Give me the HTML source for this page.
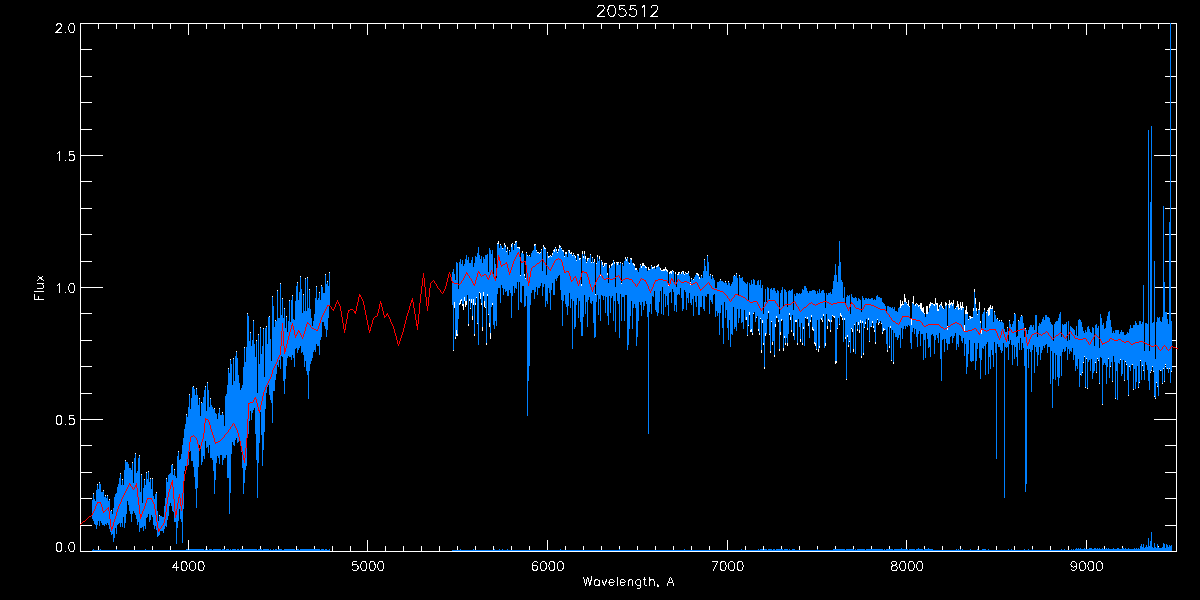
<!DOCTYPE html>
<html><head><meta charset="utf-8"><title>205512</title>
<style>html,body{margin:0;padding:0;background:#000;overflow:hidden}body{width:1200px;height:600px;font-family:"Liberation Sans",sans-serif}svg{display:block}</style>
</head><body>
<svg width="1200" height="600" viewBox="0 0 1200 600" shape-rendering="crispEdges">
<rect width="1200" height="600" fill="#000"/>
<path d="M80 23.5H1177 M80 551.5H1177 M80.5 23V552 M1176.5 23V552 M98.5 23V29 M98.5 546V552 M116.5 23V29 M116.5 546V552 M134.5 23V29 M134.5 546V552 M152.5 23V29 M152.5 546V552 M170.5 23V29 M170.5 546V552 M188.5 23V35 M188.5 540V552 M206.5 23V29 M206.5 546V552 M224.5 23V29 M224.5 546V552 M242.5 23V29 M242.5 546V552 M260.5 23V29 M260.5 546V552 M278.5 23V29 M278.5 546V552 M296.5 23V29 M296.5 546V552 M314.5 23V29 M314.5 546V552 M332.5 23V29 M332.5 546V552 M350.5 23V29 M350.5 546V552 M367.5 23V35 M367.5 540V552 M385.5 23V29 M385.5 546V552 M403.5 23V29 M403.5 546V552 M421.5 23V29 M421.5 546V552 M439.5 23V29 M439.5 546V552 M457.5 23V29 M457.5 546V552 M475.5 23V29 M475.5 546V552 M493.5 23V29 M493.5 546V552 M511.5 23V29 M511.5 546V552 M529.5 23V29 M529.5 546V552 M547.5 23V35 M547.5 540V552 M565.5 23V29 M565.5 546V552 M583.5 23V29 M583.5 546V552 M601.5 23V29 M601.5 546V552 M619.5 23V29 M619.5 546V552 M637.5 23V29 M637.5 546V552 M655.5 23V29 M655.5 546V552 M673.5 23V29 M673.5 546V552 M691.5 23V29 M691.5 546V552 M709.5 23V29 M709.5 546V552 M727.5 23V35 M727.5 540V552 M745.5 23V29 M745.5 546V552 M763.5 23V29 M763.5 546V552 M781.5 23V29 M781.5 546V552 M799.5 23V29 M799.5 546V552 M817.5 23V29 M817.5 546V552 M835.5 23V29 M835.5 546V552 M853.5 23V29 M853.5 546V552 M871.5 23V29 M871.5 546V552 M889.5 23V29 M889.5 546V552 M906.5 23V35 M906.5 540V552 M924.5 23V29 M924.5 546V552 M942.5 23V29 M942.5 546V552 M960.5 23V29 M960.5 546V552 M978.5 23V29 M978.5 546V552 M996.5 23V29 M996.5 546V552 M1014.5 23V29 M1014.5 546V552 M1032.5 23V29 M1032.5 546V552 M1050.5 23V29 M1050.5 546V552 M1068.5 23V29 M1068.5 546V552 M1086.5 23V35 M1086.5 540V552 M1104.5 23V29 M1104.5 546V552 M1122.5 23V29 M1122.5 546V552 M1140.5 23V29 M1140.5 546V552 M1158.5 23V29 M1158.5 546V552 M80 551.5H103 M1154 551.5H1177 M80 525.5H92 M1165 525.5H1177 M80 498.5H92 M1165 498.5H1177 M80 472.5H92 M1165 472.5H1177 M80 445.5H92 M1165 445.5H1177 M80 419.5H103 M1154 419.5H1177 M80 393.5H92 M1165 393.5H1177 M80 366.5H92 M1165 366.5H1177 M80 340.5H92 M1165 340.5H1177 M80 313.5H92 M1165 313.5H1177 M80 287.5H103 M1154 287.5H1177 M80 261.5H92 M1165 261.5H1177 M80 234.5H92 M1165 234.5H1177 M80 208.5H92 M1165 208.5H1177 M80 181.5H92 M1165 181.5H1177 M80 155.5H103 M1154 155.5H1177 M80 129.5H92 M1165 129.5H1177 M80 102.5H92 M1165 102.5H1177 M80 76.5H92 M1165 76.5H1177 M80 49.5H92 M1165 49.5H1177 M80 23.5H103 M1154 23.5H1177" stroke="#fff" stroke-width="1" fill="none"/>
<path d="M92.5 500V519M93.5 493V521M94.5 499V524M95.5 501V525M96.5 490V529M97.5 484V525M98.5 489V521M99.5 482V526M100.5 484V521M101.5 492V523M102.5 492V525M103.5 490V525M104.5 497V526M105.5 495V524M106.5 498V525M107.5 495V523M108.5 501V525M109.5 499V529M110.5 511V532M111.5 510V535M112.5 514V534M113.5 508V542M114.5 497V538M115.5 494V528M116.5 493V534M117.5 487V525M118.5 484V524M119.5 478V523M120.5 473V527M121.5 485V523M122.5 479V527M123.5 485V517M124.5 470V528M125.5 460V523M126.5 462V514M127.5 462V501M128.5 464V505M129.5 468V511M130.5 468V514M131.5 470V522M132.5 462V514M133.5 483V511M134.5 458V513M135.5 453V515M136.5 473V519M137.5 471V525M138.5 458V522M139.5 455V532M140.5 492V528M141.5 474V528M142.5 503V527M143.5 488V531M144.5 479V526M145.5 485V529M146.5 472V518M147.5 479V517M148.5 471V514M149.5 482V522M150.5 478V520M151.5 489V515M152.5 478V517M153.5 496V525M154.5 499V529M155.5 494V526M156.5 492V530M157.5 511V537M158.5 521V536M159.5 515V535M160.5 516V531M161.5 516V531M162.5 517V531M163.5 517V533M164.5 506V529M165.5 498V526M166.5 478V527M167.5 482V520M168.5 475V516M169.5 474V506M170.5 473V503M171.5 465V506M172.5 464V511M173.5 475V512M174.5 469V522M175.5 476V522M176.5 478V544M177.5 456V528M178.5 451V521M179.5 460V509M180.5 459V519M181.5 454V522M182.5 445V543M183.5 438V509M184.5 429V471M185.5 424V466M186.5 414V469M187.5 417V466M188.5 407V465M189.5 394V452M190.5 409V451M191.5 398V461M192.5 387V461M193.5 386V467M194.5 389V477M195.5 395V489M196.5 388V508M197.5 395V488M198.5 405V467M199.5 398V445M200.5 416V449M201.5 402V465M202.5 403V462M203.5 397V456M204.5 390V459M205.5 386V441M206.5 411V448M207.5 382V447M208.5 390V453M209.5 407V445M210.5 398V458M211.5 405V458M212.5 407V460M213.5 409V471M214.5 408V494M215.5 413V480M216.5 414V463M217.5 419V456M218.5 413V458M219.5 408V464M220.5 415V455M221.5 415V455M222.5 412V465M223.5 415V460M224.5 426V458M225.5 396V458M226.5 394V455M227.5 385V478M228.5 368V478M229.5 373V514M230.5 359V493M231.5 364V454M232.5 385V442M233.5 358V445M234.5 381V446M235.5 356V440M236.5 351V438M237.5 358V443M238.5 375V442M239.5 383V441M240.5 390V445M241.5 388V452M242.5 385V468M243.5 367V494M244.5 347V483M245.5 362V470M246.5 347V466M247.5 313V436M248.5 316V434M249.5 341V421M250.5 332V411M251.5 346V420M252.5 340V413M253.5 320V410M254.5 344V408M255.5 357V434M256.5 340V460M257.5 393V498M258.5 334V463M259.5 364V443M260.5 327V412M261.5 354V435M262.5 346V466M263.5 328V450M264.5 377V432M265.5 328V409M266.5 326V393M267.5 344V387M268.5 317V385M269.5 316V395M270.5 339V400M271.5 361V403M272.5 296V423M273.5 306V391M274.5 327V391M275.5 320V380M276.5 321V374M277.5 290V365M278.5 318V367M279.5 318V360M280.5 283V369M281.5 315V356M282.5 298V357M283.5 318V381M284.5 308V394M285.5 328V379M286.5 316V366M287.5 332V358M288.5 321V356M289.5 300V357M290.5 322V357M291.5 300V360M292.5 295V355M293.5 319V358M294.5 320V367M295.5 301V349M296.5 286V348M297.5 282V353M298.5 300V350M299.5 292V348M300.5 276V346M301.5 289V353M302.5 313V352M303.5 294V355M304.5 311V367M305.5 278V361M306.5 311V371M307.5 277V375M308.5 308V399M309.5 289V371M310.5 309V364M311.5 318V361M312.5 326V358M313.5 321V352M314.5 314V350M315.5 298V352M316.5 286V344M317.5 300V346M318.5 298V346M319.5 292V355M320.5 300V340M321.5 285V337M322.5 287V322M323.5 293V322M324.5 293V326M325.5 274V329M326.5 284V337M327.5 281V330M328.5 286V318M329.5 272V306M452.5 272V305M453.5 269V351M454.5 274V308M455.5 280V339M456.5 262V336M457.5 263V336M458.5 289V319M459.5 262V305M460.5 259V304M461.5 264V301M462.5 260V306M463.5 266V310M464.5 264V301M465.5 259V307M466.5 255V305M467.5 260V295M468.5 257V326M469.5 263V301M470.5 263V309M471.5 260V303M472.5 257V320M473.5 267V305M474.5 263V336M475.5 256V305M476.5 257V298M477.5 253V324M478.5 247V345M479.5 255V293M480.5 259V299M481.5 256V305M482.5 263V331M483.5 257V296M484.5 259V307M485.5 255V308M486.5 255V345M487.5 254V296M488.5 272V315M489.5 248V327M490.5 250V339M491.5 254V307M492.5 250V305M493.5 277V325M494.5 258V329M495.5 264V321M496.5 278V326M497.5 243V294M498.5 241V288M499.5 248V288M500.5 244V303M501.5 246V285M502.5 248V288M503.5 248V295M504.5 243V289M505.5 245V292M506.5 251V291M507.5 247V296M508.5 255V296M509.5 250V290M510.5 252V293M511.5 244V318M512.5 243V296M513.5 250V286M514.5 244V293M515.5 241V288M516.5 241V289M517.5 247V282M518.5 247V310M519.5 247V282M520.5 275V302M521.5 253V303M522.5 251V286M523.5 254V286M524.5 274V307M525.5 278V306M526.5 252V296M527.5 255V416M528.5 256V381M529.5 255V366M530.5 257V305M531.5 253V293M532.5 251V290M533.5 250V290M534.5 244V299M535.5 244V292M536.5 250V287M537.5 252V295M538.5 252V288M539.5 253V288M540.5 252V286M541.5 249V283M542.5 271V296M543.5 245V287M544.5 247V284M545.5 248V307M546.5 275V301M547.5 252V304M548.5 256V288M549.5 256V293M550.5 255V310M551.5 256V290M552.5 253V283M553.5 250V295M554.5 249V295M555.5 247V279M556.5 249V281M557.5 252V278M558.5 249V276M559.5 245V275M560.5 246V290M561.5 248V300M562.5 250V326M563.5 250V301M564.5 256V295M565.5 252V304M566.5 252V307M567.5 257V315M568.5 250V306M569.5 250V293M570.5 253V308M571.5 252V299M572.5 255V349M573.5 253V301M574.5 255V329M575.5 256V327M576.5 260V305M577.5 254V298M578.5 254V318M579.5 258V301M580.5 258V322M581.5 284V336M582.5 251V336M583.5 256V317M584.5 251V295M585.5 256V314M586.5 262V302M587.5 258V327M588.5 258V300M589.5 258V297M590.5 254V303M591.5 262V304M592.5 257V301M593.5 262V323M594.5 259V338M595.5 294V337M596.5 263V302M597.5 255V295M598.5 261V315M599.5 256V299M600.5 274V321M601.5 260V295M602.5 262V296M603.5 266V300M604.5 263V296M605.5 263V313M606.5 263V297M607.5 273V316M608.5 283V325M609.5 265V296M610.5 268V313M611.5 264V298M612.5 263V296M613.5 260V321M614.5 262V301M615.5 287V332M616.5 262V293M617.5 262V301M618.5 262V304M619.5 265V338M620.5 262V294M621.5 283V321M622.5 263V297M623.5 266V297M624.5 261V321M625.5 257V295M626.5 259V295M627.5 257V350M628.5 262V345M629.5 263V329M630.5 258V316M631.5 258V301M632.5 263V329M633.5 263V308M634.5 264V304M635.5 268V308M636.5 268V346M637.5 270V337M638.5 272V321M639.5 268V302M640.5 264V305M641.5 266V316M642.5 263V302M643.5 263V310M644.5 265V306M645.5 266V301M646.5 267V304M647.5 271V317M648.5 267V434M649.5 269V312M650.5 269V304M651.5 265V314M652.5 267V296M653.5 267V297M654.5 266V291M655.5 269V310M656.5 266V312M657.5 265V316M658.5 264V313M659.5 267V302M660.5 268V291M661.5 270V314M662.5 270V287M663.5 269V315M664.5 269V294M665.5 267V307M666.5 269V296M667.5 270V305M668.5 284V316M669.5 272V293M670.5 271V292M671.5 271V303M672.5 270V289M673.5 271V292M674.5 283V311M675.5 272V305M676.5 287V312M677.5 274V295M678.5 272V294M679.5 272V295M680.5 274V288M681.5 272V298M682.5 271V311M683.5 271V309M684.5 274V290M685.5 272V292M686.5 273V310M687.5 273V298M688.5 271V303M689.5 276V293M690.5 282V303M691.5 278V305M692.5 280V299M693.5 279V316M694.5 277V296M695.5 275V302M696.5 273V307M697.5 273V296M698.5 274V315M699.5 277V315M700.5 278V307M701.5 275V307M702.5 278V296M703.5 271V309M704.5 259V311M705.5 266V296M706.5 271V297M707.5 255V294M708.5 262V294M709.5 276V314M710.5 274V300M711.5 279V302M712.5 275V304M713.5 278V295M714.5 280V294M715.5 288V317M716.5 288V311M717.5 282V316M718.5 282V313M719.5 281V335M720.5 279V313M721.5 281V305M722.5 281V328M723.5 282V344M724.5 283V302M725.5 281V318M726.5 283V310M727.5 285V328M728.5 281V340M729.5 283V320M730.5 286V347M731.5 284V334M732.5 282V335M733.5 276V307M734.5 275V329M735.5 276V327M736.5 273V331M737.5 278V309M738.5 296V323M739.5 275V318M740.5 278V309M741.5 278V323M742.5 277V322M743.5 281V329M744.5 282V310M745.5 283V320M746.5 284V320M747.5 282V336M748.5 301V326M749.5 283V315M750.5 285V332M751.5 280V332M752.5 284V335M753.5 279V314M754.5 280V312M755.5 285V322M756.5 285V318M757.5 281V316M758.5 280V331M759.5 285V335M760.5 280V319M761.5 288V353M762.5 285V323M763.5 314V345M764.5 302V369M765.5 289V336M766.5 302V334M767.5 287V319M768.5 288V313M769.5 299V335M770.5 289V353M771.5 288V322M772.5 290V345M773.5 288V341M774.5 288V357M775.5 291V327M776.5 293V318M777.5 290V318M778.5 291V322M779.5 314V351M780.5 293V335M781.5 290V321M782.5 287V320M783.5 307V351M784.5 289V338M785.5 290V345M786.5 292V338M787.5 307V346M788.5 291V334M789.5 290V315M790.5 291V320M791.5 290V332M792.5 289V315M793.5 310V336M794.5 294V340M795.5 296V322M796.5 293V322M797.5 293V345M798.5 294V319M799.5 293V327M800.5 294V342M801.5 293V323M802.5 289V345M803.5 290V329M804.5 286V346M805.5 286V318M806.5 288V319M807.5 291V319M808.5 293V326M809.5 291V338M810.5 291V322M811.5 291V317M812.5 290V330M813.5 290V331M814.5 290V344M815.5 291V346M816.5 294V350M817.5 291V320M818.5 293V352M819.5 289V348M820.5 293V319M821.5 291V320M822.5 290V322M823.5 290V316M824.5 293V348M825.5 308V346M826.5 293V314M827.5 295V329M828.5 293V321M829.5 293V322M830.5 292V332M831.5 294V322M832.5 289V316M833.5 281V317M834.5 275V318M835.5 264V364M836.5 275V363M837.5 282V329M838.5 266V318M839.5 241V325M840.5 262V316M841.5 280V317M842.5 282V320M843.5 298V342M844.5 287V320M845.5 303V339M846.5 297V380M847.5 295V337M848.5 296V347M849.5 295V342M850.5 314V353M851.5 294V329M852.5 297V332M853.5 298V352M854.5 298V325M855.5 297V354M856.5 298V322M857.5 301V331M858.5 298V325M859.5 299V333M860.5 300V323M861.5 312V358M862.5 296V323M863.5 298V355M864.5 300V328M865.5 298V324M866.5 298V319M867.5 299V330M868.5 298V320M869.5 299V342M870.5 299V327M871.5 298V327M872.5 298V323M873.5 300V328M874.5 299V332M875.5 300V344M876.5 296V323M877.5 295V320M878.5 297V325M879.5 297V323M880.5 298V321M881.5 298V324M882.5 302V334M883.5 303V331M884.5 304V330M885.5 306V330M886.5 312V344M887.5 306V352M888.5 306V327M889.5 307V348M890.5 307V328M891.5 308V361M892.5 307V330M893.5 309V364M894.5 307V333M895.5 311V337M896.5 311V337M897.5 312V340M898.5 308V338M899.5 307V335M900.5 300V348M901.5 304V328M902.5 301V339M903.5 304V329M904.5 294V326M905.5 298V329M906.5 302V326M907.5 304V327M908.5 300V325M909.5 306V326M910.5 318V343M911.5 319V349M912.5 302V332M913.5 296V328M914.5 305V334M915.5 304V329M916.5 303V337M917.5 304V347M918.5 305V334M919.5 305V331M920.5 303V346M921.5 303V334M922.5 308V334M923.5 307V360M924.5 313V340M925.5 317V358M926.5 306V333M927.5 306V339M928.5 312V348M929.5 304V347M930.5 302V357M931.5 303V335M932.5 303V334M933.5 304V336M934.5 304V354M935.5 298V340M936.5 303V335M937.5 303V338M938.5 309V343M939.5 305V333M940.5 304V359M941.5 302V381M942.5 306V340M943.5 308V339M944.5 309V352M945.5 302V339M946.5 303V343M947.5 326V350M948.5 304V344M949.5 300V344M950.5 303V337M951.5 302V336M952.5 303V343M953.5 300V338M954.5 309V336M955.5 308V333M956.5 306V350M957.5 301V344M958.5 304V347M959.5 308V335M960.5 302V336M961.5 306V341M962.5 302V343M963.5 307V338M964.5 325V356M965.5 310V344M966.5 306V374M967.5 312V367M968.5 319V354M969.5 316V340M970.5 316V361M971.5 317V362M972.5 317V361M973.5 308V361M974.5 289V343M975.5 298V370M976.5 308V361M977.5 314V349M978.5 309V343M979.5 302V358M980.5 321V379M981.5 330V360M982.5 314V348M983.5 312V349M984.5 308V346M985.5 328V375M986.5 312V344M987.5 310V342M988.5 308V374M989.5 307V357M990.5 305V369M991.5 308V350M992.5 306V355M993.5 322V367M994.5 311V342M995.5 315V353M996.5 319V459M997.5 318V344M998.5 321V347M999.5 320V347M1000.5 322V350M1001.5 320V353M1002.5 322V351M1003.5 323V343M1004.5 329V498M1005.5 332V347M1006.5 332V348M1007.5 327V347M1008.5 341V360M1009.5 320V344M1010.5 324V340M1011.5 327V345M1012.5 324V365M1013.5 321V345M1014.5 313V359M1015.5 314V347M1016.5 337V357M1017.5 336V366M1018.5 320V343M1019.5 321V350M1020.5 317V338M1021.5 315V350M1022.5 316V343M1023.5 323V348M1024.5 337V366M1025.5 328V492M1026.5 330V484M1027.5 334V349M1028.5 330V368M1029.5 327V349M1030.5 325V352M1031.5 325V392M1032.5 327V350M1033.5 325V345M1034.5 330V373M1035.5 315V347M1036.5 315V352M1037.5 337V366M1038.5 326V355M1039.5 323V347M1040.5 324V360M1041.5 322V353M1042.5 319V350M1043.5 317V346M1044.5 320V348M1045.5 315V345M1046.5 315V344M1047.5 317V353M1048.5 317V347M1049.5 318V347M1050.5 322V384M1051.5 324V351M1052.5 325V408M1053.5 341V379M1054.5 324V353M1055.5 322V380M1056.5 321V355M1057.5 321V377M1058.5 318V386M1059.5 314V378M1060.5 312V356M1061.5 337V376M1062.5 324V352M1063.5 325V349M1064.5 324V352M1065.5 324V351M1066.5 322V347M1067.5 341V360M1068.5 321V349M1069.5 340V354M1070.5 326V351M1071.5 327V352M1072.5 328V348M1073.5 329V360M1074.5 330V355M1075.5 335V371M1076.5 326V366M1077.5 336V369M1078.5 320V359M1079.5 319V387M1080.5 320V375M1081.5 322V376M1082.5 327V373M1083.5 331V363M1084.5 333V357M1085.5 330V388M1086.5 332V359M1087.5 327V389M1088.5 326V362M1089.5 329V360M1090.5 332V371M1091.5 333V359M1092.5 327V379M1093.5 328V373M1094.5 346V371M1095.5 325V363M1096.5 324V373M1097.5 328V359M1098.5 326V361M1099.5 348V384M1100.5 314V357M1101.5 318V358M1102.5 325V405M1103.5 323V365M1104.5 329V363M1105.5 328V365M1106.5 321V384M1107.5 316V367M1108.5 312V359M1109.5 311V378M1110.5 320V367M1111.5 327V362M1112.5 333V382M1113.5 331V356M1114.5 333V362M1115.5 330V399M1116.5 330V371M1117.5 330V400M1118.5 330V363M1119.5 334V364M1120.5 332V360M1121.5 330V376M1122.5 332V374M1123.5 332V360M1124.5 335V381M1125.5 335V362M1126.5 334V365M1127.5 332V380M1128.5 333V396M1129.5 329V367M1130.5 325V371M1131.5 328V365M1132.5 328V365M1133.5 325V390M1134.5 325V369M1135.5 321V389M1136.5 323V382M1137.5 325V366M1138.5 325V388M1139.5 321V383M1140.5 321V361M1141.5 324V380M1142.5 322V366M1143.5 285V371M1144.5 351V380M1145.5 323V362M1146.5 323V365M1147.5 324V370M1148.5 130V381M1149.5 351V390M1150.5 202V373M1151.5 126V371M1152.5 323V367M1153.5 322V372M1154.5 261V397M1155.5 359V399M1156.5 322V383M1157.5 317V387M1158.5 318V396M1159.5 317V370M1160.5 321V371M1161.5 322V371M1162.5 317V384M1163.5 206V369M1164.5 282V382M1165.5 312V365M1166.5 312V369M1167.5 319V369M1168.5 324V373M1169.5 222V369M1170.5 23V383M1171.5 321V372" stroke="#fff" stroke-width="1" fill="none"/>
<path d="M92.5 500V519M93.5 494V521M94.5 499V524M95.5 501V525M96.5 490V529M97.5 485V525M98.5 489V521M99.5 483V526M100.5 484V521M101.5 492V523M102.5 492V525M103.5 491V525M104.5 497V526M105.5 496V524M106.5 498V525M107.5 496V523M108.5 501V525M109.5 500V529M110.5 511V532M111.5 511V535M112.5 514V534M113.5 508V542M114.5 497V538M115.5 494V528M116.5 493V534M117.5 487V525M118.5 484V524M119.5 478V523M120.5 474V527M121.5 485V523M122.5 480V527M123.5 485V517M124.5 470V528M125.5 461V523M126.5 462V514M127.5 462V501M128.5 464V505M129.5 468V511M130.5 468V514M131.5 470V522M132.5 463V514M133.5 483V511M134.5 458V513M135.5 454V515M136.5 473V519M137.5 471V525M138.5 458V522M139.5 456V532M140.5 492V528M141.5 475V528M142.5 503V527M143.5 488V531M144.5 480V526M145.5 485V529M146.5 473V518M147.5 479V517M148.5 472V514M149.5 482V522M150.5 479V520M151.5 489V515M152.5 479V517M153.5 496V525M154.5 499V529M155.5 494V526M156.5 493V530M157.5 511V537M158.5 521V536M159.5 516V535M160.5 516V531M161.5 516V531M162.5 517V531M163.5 517V533M164.5 506V529M165.5 498V526M166.5 479V527M167.5 482V520M168.5 475V516M169.5 474V506M170.5 473V503M171.5 465V506M172.5 465V511M173.5 475V512M174.5 470V522M175.5 476V522M176.5 478V544M177.5 456V528M178.5 452V521M179.5 460V509M180.5 459V519M181.5 454V522M182.5 445V543M183.5 438V509M184.5 429V471M185.5 424V466M186.5 415V469M187.5 417V466M188.5 407V465M189.5 395V452M190.5 409V451M191.5 398V461M192.5 387V461M193.5 387V467M194.5 389V477M195.5 395V489M196.5 389V508M197.5 395V488M198.5 405V467M199.5 399V445M200.5 416V449M201.5 403V465M202.5 403V462M203.5 397V456M204.5 390V459M205.5 387V441M206.5 411V448M207.5 383V447M208.5 390V453M209.5 407V445M210.5 399V458M211.5 405V458M212.5 407V460M213.5 409V471M214.5 409V494M215.5 413V480M216.5 414V463M217.5 419V456M218.5 413V458M219.5 409V464M220.5 415V455M221.5 415V455M222.5 413V465M223.5 415V460M224.5 426V458M225.5 396V458M226.5 394V455M227.5 385V478M228.5 369V478M229.5 373V514M230.5 360V493M231.5 364V454M232.5 385V442M233.5 359V445M234.5 381V446M235.5 356V440M236.5 352V438M237.5 358V443M238.5 375V442M239.5 383V441M240.5 390V445M241.5 388V452M242.5 385V468M243.5 367V494M244.5 348V483M245.5 362V470M246.5 347V466M247.5 314V436M248.5 316V434M249.5 341V421M250.5 333V411M251.5 346V420M252.5 340V413M253.5 321V410M254.5 344V408M255.5 357V434M256.5 341V460M257.5 393V498M258.5 335V463M259.5 364V443M260.5 328V412M261.5 354V435M262.5 346V466M263.5 329V450M264.5 377V432M265.5 328V409M266.5 327V393M267.5 344V387M268.5 317V385M269.5 317V395M270.5 339V400M271.5 361V403M272.5 297V423M273.5 306V391M274.5 327V391M275.5 321V380M276.5 321V374M277.5 291V365M278.5 318V367M279.5 318V360M280.5 284V369M281.5 315V356M282.5 299V357M283.5 318V381M284.5 309V394M285.5 328V379M286.5 317V366M287.5 332V358M288.5 321V356M289.5 301V357M290.5 322V357M291.5 300V360M292.5 296V355M293.5 319V358M294.5 320V367M295.5 301V349M296.5 286V348M297.5 283V353M298.5 300V350M299.5 292V348M300.5 277V346M301.5 289V353M302.5 313V352M303.5 295V355M304.5 311V367M305.5 279V361M306.5 311V371M307.5 278V375M308.5 308V399M309.5 290V371M310.5 309V364M311.5 318V361M312.5 326V358M313.5 321V352M314.5 314V350M315.5 298V352M316.5 287V344M317.5 300V346M318.5 298V346M319.5 293V355M320.5 300V340M321.5 286V337M322.5 287V322M323.5 293V322M324.5 293V326M325.5 275V329M326.5 284V337M327.5 282V330M328.5 286V318M329.5 273V306M452.5 272V305M453.5 269V350M454.5 274V302M455.5 280V337M456.5 262V330M457.5 263V334M458.5 289V319M459.5 262V303M460.5 259V300M461.5 264V299M462.5 260V304M463.5 266V304M464.5 264V297M465.5 259V301M466.5 255V301M467.5 260V295M468.5 257V324M469.5 263V299M470.5 263V308M471.5 260V299M472.5 257V316M473.5 267V299M474.5 263V334M475.5 256V303M476.5 257V297M477.5 253V323M478.5 247V345M479.5 255V292M480.5 259V293M481.5 256V303M482.5 263V327M483.5 257V292M484.5 259V301M485.5 255V307M486.5 255V343M487.5 254V294M488.5 272V314M489.5 248V323M490.5 250V333M491.5 254V307M492.5 250V303M493.5 277V325M494.5 258V329M495.5 264V321M496.5 278V326M497.5 244V294M498.5 244V288M499.5 248V288M500.5 245V303M501.5 246V285M502.5 249V288M503.5 248V295M504.5 245V289M505.5 247V292M506.5 252V291M507.5 249V296M508.5 255V296M509.5 251V290M510.5 252V293M511.5 247V318M512.5 244V296M513.5 250V286M514.5 245V293M515.5 243V288M516.5 242V289M517.5 248V282M518.5 248V310M519.5 249V282M520.5 276V302M521.5 253V303M522.5 253V286M523.5 254V286M524.5 276V307M525.5 279V306M526.5 253V296M527.5 256V416M528.5 256V381M529.5 256V366M530.5 257V305M531.5 253V293M532.5 251V290M533.5 250V290M534.5 246V299M535.5 245V292M536.5 251V287M537.5 253V295M538.5 253V288M539.5 254V288M540.5 253V286M541.5 250V283M542.5 271V296M543.5 247V287M544.5 249V284M545.5 249V307M546.5 275V301M547.5 253V304M548.5 258V288M549.5 257V293M550.5 256V310M551.5 257V290M552.5 255V283M553.5 251V295M554.5 252V295M555.5 248V279M556.5 251V281M557.5 253V278M558.5 251V276M559.5 248V275M560.5 247V290M561.5 249V300M562.5 251V326M563.5 252V301M564.5 257V295M565.5 254V304M566.5 254V307M567.5 257V315M568.5 251V306M569.5 253V293M570.5 254V308M571.5 254V299M572.5 256V349M573.5 254V301M574.5 256V329M575.5 258V327M576.5 261V305M577.5 255V298M578.5 256V318M579.5 260V301M580.5 259V322M581.5 286V336M582.5 254V336M583.5 258V317M584.5 254V295M585.5 259V314M586.5 263V302M587.5 261V327M588.5 259V300M589.5 258V297M590.5 255V303M591.5 263V304M592.5 258V301M593.5 263V323M594.5 262V338M595.5 295V337M596.5 264V302M597.5 257V295M598.5 261V315M599.5 259V299M600.5 276V321M601.5 261V295M602.5 265V296M603.5 267V300M604.5 266V296M605.5 264V313M606.5 264V297M607.5 275V316M608.5 283V325M609.5 268V296M610.5 268V313M611.5 266V298M612.5 265V296M613.5 261V321M614.5 264V301M615.5 287V332M616.5 263V293M617.5 265V301M618.5 263V304M619.5 265V338M620.5 263V294M621.5 284V321M622.5 264V297M623.5 266V297M624.5 261V321M625.5 259V295M626.5 261V295M627.5 258V350M628.5 262V345M629.5 264V329M630.5 259V316M631.5 260V301M632.5 263V329M633.5 265V308M634.5 266V304M635.5 270V308M636.5 270V346M637.5 270V337M638.5 272V321M639.5 268V302M640.5 265V305M641.5 268V316M642.5 266V302M643.5 266V310M644.5 266V306M645.5 268V301M646.5 268V304M647.5 271V317M648.5 270V434M649.5 270V312M650.5 269V304M651.5 266V314M652.5 269V296M653.5 268V297M654.5 268V291M655.5 269V310M656.5 267V312M657.5 267V316M658.5 266V313M659.5 267V302M660.5 270V291M661.5 271V314M662.5 271V287M663.5 271V315M664.5 271V294M665.5 270V307M666.5 271V296M667.5 272V305M668.5 286V316M669.5 274V293M670.5 273V292M671.5 274V303M672.5 271V289M673.5 272V292M674.5 284V311M675.5 274V305M676.5 287V312M677.5 275V295M678.5 275V294M679.5 273V295M680.5 274V288M681.5 274V298M682.5 272V311M683.5 274V309M684.5 275V290M685.5 273V292M686.5 274V310M687.5 274V298M688.5 273V303M689.5 276V293M690.5 285V303M691.5 279V305M692.5 280V299M693.5 280V316M694.5 277V296M695.5 275V302M696.5 274V307M697.5 275V296M698.5 276V315M699.5 279V315M700.5 278V307M701.5 276V307M702.5 278V296M703.5 271V309M704.5 260V311M705.5 266V296M706.5 271V297M707.5 256V294M708.5 262V294M709.5 276V314M710.5 275V300M711.5 279V302M712.5 276V304M713.5 278V295M714.5 280V294M715.5 288V317M716.5 288V311M717.5 282V316M718.5 282V313M719.5 281V335M720.5 280V313M721.5 281V305M722.5 281V328M723.5 282V344M724.5 283V302M725.5 282V318M726.5 283V310M727.5 285V328M728.5 282V340M729.5 283V320M730.5 286V347M731.5 284V334M732.5 282V335M733.5 276V307M734.5 276V329M735.5 276V327M736.5 274V331M737.5 278V309M738.5 296V323M739.5 276V318M740.5 278V309M741.5 278V323M742.5 277V322M743.5 281V329M744.5 282V310M745.5 283V320M746.5 284V317M747.5 282V335M748.5 301V325M749.5 283V312M750.5 285V330M751.5 280V329M752.5 284V333M753.5 279V313M754.5 280V312M755.5 285V322M756.5 285V317M757.5 281V316M758.5 280V329M759.5 285V333M760.5 280V318M761.5 288V350M762.5 285V320M763.5 314V343M764.5 302V367M765.5 289V333M766.5 302V334M767.5 287V319M768.5 288V311M769.5 299V334M770.5 289V351M771.5 288V321M772.5 290V342M773.5 288V341M774.5 288V355M775.5 291V324M776.5 293V316M777.5 290V318M778.5 291V320M779.5 314V349M780.5 293V332M781.5 290V319M782.5 287V320M783.5 307V348M784.5 289V336M785.5 290V343M786.5 292V338M787.5 307V343M788.5 291V334M789.5 290V313M790.5 291V317M791.5 290V330M792.5 289V315M793.5 310V333M794.5 294V340M795.5 296V320M796.5 293V320M797.5 293V343M798.5 294V319M799.5 293V327M800.5 294V339M801.5 293V323M802.5 289V343M803.5 290V327M804.5 286V346M805.5 286V317M806.5 288V319M807.5 291V317M808.5 293V323M809.5 291V338M810.5 291V320M811.5 291V315M812.5 290V327M813.5 290V329M814.5 290V342M815.5 291V343M816.5 294V349M817.5 291V320M818.5 293V349M819.5 289V346M820.5 293V319M821.5 291V318M822.5 290V320M823.5 290V314M824.5 293V348M825.5 308V343M826.5 293V314M827.5 295V326M828.5 293V319M829.5 293V320M830.5 292V330M831.5 294V320M832.5 289V315M833.5 281V316M834.5 275V316M835.5 264V361M836.5 275V361M837.5 282V328M838.5 266V318M839.5 241V324M840.5 262V313M841.5 280V315M842.5 282V318M843.5 298V342M844.5 287V318M845.5 303V337M846.5 297V379M847.5 295V335M848.5 296V345M849.5 295V341M850.5 314V353M851.5 294V328M852.5 297V329M853.5 298V349M854.5 298V324M855.5 297V354M856.5 298V322M857.5 301V329M858.5 298V322M859.5 299V330M860.5 300V320M861.5 312V356M862.5 296V321M863.5 298V353M864.5 300V327M865.5 298V322M866.5 298V319M867.5 299V328M868.5 298V318M869.5 299V341M870.5 299V327M871.5 298V326M872.5 298V321M873.5 300V326M874.5 299V330M875.5 300V342M876.5 296V323M877.5 295V319M878.5 297V323M879.5 297V322M880.5 298V321M881.5 298V323M882.5 302V332M883.5 303V328M884.5 304V329M885.5 306V330M886.5 312V344M887.5 306V350M888.5 306V327M889.5 307V346M890.5 307V326M891.5 308V360M892.5 307V330M893.5 309V362M894.5 307V333M895.5 311V337M896.5 311V337M897.5 312V340M898.5 308V338M899.5 307V335M900.5 308V348M901.5 306V328M902.5 305V339M903.5 305V329M904.5 302V326M905.5 302V329M906.5 303V326M907.5 305V327M908.5 306V325M909.5 307V326M910.5 318V343M911.5 325V349M912.5 303V332M913.5 304V328M914.5 305V334M915.5 306V329M916.5 304V337M917.5 305V347M918.5 307V334M919.5 306V331M920.5 309V346M921.5 311V334M922.5 312V334M923.5 313V360M924.5 314V340M925.5 317V358M926.5 314V333M927.5 314V339M928.5 312V348M929.5 308V347M930.5 306V357M931.5 304V335M932.5 304V334M933.5 305V336M934.5 306V354M935.5 304V340M936.5 305V335M937.5 311V338M938.5 311V343M939.5 307V333M940.5 305V359M941.5 306V381M942.5 308V340M943.5 309V339M944.5 309V352M945.5 306V339M946.5 305V343M947.5 330V350M948.5 305V344M949.5 308V344M950.5 305V337M951.5 304V336M952.5 306V343M953.5 304V338M954.5 309V336M955.5 309V333M956.5 307V350M957.5 307V344M958.5 310V347M959.5 309V335M960.5 308V336M961.5 310V341M962.5 308V343M963.5 308V338M964.5 331V356M965.5 314V344M966.5 314V374M967.5 314V367M968.5 320V354M969.5 317V340M970.5 319V361M971.5 318V362M972.5 318V361M973.5 311V361M974.5 292V343M975.5 304V370M976.5 311V361M977.5 315V349M978.5 310V343M979.5 310V358M980.5 323V379M981.5 334V360M982.5 314V348M983.5 312V349M984.5 310V346M985.5 328V375M986.5 313V344M987.5 311V342M988.5 316V374M989.5 315V357M990.5 309V369M991.5 309V350M992.5 309V355M993.5 322V367M994.5 312V342M995.5 315V353M996.5 319V459M997.5 319V344M998.5 321V347M999.5 321V347M1000.5 322V350M1001.5 321V353M1002.5 322V351M1003.5 323V343M1004.5 329V498M1005.5 332V347M1006.5 332V348M1007.5 328V347M1008.5 341V360M1009.5 321V344M1010.5 324V340M1011.5 327V345M1012.5 324V365M1013.5 321V345M1014.5 314V359M1015.5 314V347M1016.5 337V357M1017.5 336V366M1018.5 321V343M1019.5 321V350M1020.5 317V338M1021.5 316V350M1022.5 316V343M1023.5 323V348M1024.5 337V366M1025.5 329V492M1026.5 330V484M1027.5 334V349M1028.5 330V368M1029.5 327V349M1030.5 325V352M1031.5 325V392M1032.5 327V350M1033.5 325V345M1034.5 330V373M1035.5 315V347M1036.5 315V352M1037.5 337V366M1038.5 326V355M1039.5 323V347M1040.5 324V360M1041.5 322V353M1042.5 319V350M1043.5 317V346M1044.5 320V348M1045.5 315V345M1046.5 315V344M1047.5 317V353M1048.5 317V347M1049.5 318V347M1050.5 322V384M1051.5 324V351M1052.5 325V408M1053.5 341V379M1054.5 324V353M1055.5 322V380M1056.5 321V355M1057.5 321V377M1058.5 318V386M1059.5 314V378M1060.5 312V356M1061.5 337V376M1062.5 324V352M1063.5 325V349M1064.5 324V352M1065.5 324V351M1066.5 322V347M1067.5 341V360M1068.5 321V349M1069.5 340V354M1070.5 326V351M1071.5 327V352M1072.5 328V348M1073.5 329V360M1074.5 330V355M1075.5 335V371M1076.5 326V366M1077.5 336V369M1078.5 320V359M1079.5 319V387M1080.5 320V374M1081.5 322V376M1082.5 327V372M1083.5 331V362M1084.5 333V356M1085.5 330V387M1086.5 332V358M1087.5 327V388M1088.5 326V362M1089.5 329V360M1090.5 332V371M1091.5 333V359M1092.5 327V379M1093.5 328V373M1094.5 346V371M1095.5 325V362M1096.5 324V372M1097.5 328V358M1098.5 326V360M1099.5 348V383M1100.5 314V357M1101.5 318V358M1102.5 325V404M1103.5 323V365M1104.5 329V363M1105.5 328V365M1106.5 321V384M1107.5 316V367M1108.5 312V358M1109.5 311V378M1110.5 320V366M1111.5 327V362M1112.5 333V381M1113.5 331V356M1114.5 333V362M1115.5 330V398M1116.5 330V371M1117.5 330V400M1118.5 330V363M1119.5 334V364M1120.5 332V359M1121.5 330V376M1122.5 332V374M1123.5 332V360M1124.5 335V380M1125.5 335V361M1126.5 334V364M1127.5 332V380M1128.5 333V395M1129.5 329V366M1130.5 325V371M1131.5 328V365M1132.5 328V364M1133.5 325V389M1134.5 325V369M1135.5 321V389M1136.5 323V382M1137.5 325V366M1138.5 325V387M1139.5 321V382M1140.5 321V360M1141.5 324V380M1142.5 322V365M1143.5 285V370M1144.5 351V380M1145.5 323V362M1146.5 323V365M1147.5 324V370M1148.5 130V381M1149.5 351V390M1150.5 202V372M1151.5 126V370M1152.5 323V366M1153.5 322V371M1154.5 261V396M1155.5 359V398M1156.5 322V382M1157.5 317V386M1158.5 318V396M1159.5 317V370M1160.5 321V370M1161.5 322V371M1162.5 317V383M1163.5 206V368M1164.5 282V381M1165.5 312V364M1166.5 312V369M1167.5 319V368M1168.5 324V373M1169.5 222V368M1170.5 23V383M1171.5 321V371" stroke="#0080ff" stroke-width="1" fill="none"/>
<path d="M92.5 550V551M93.5 549V551M94.5 550V551M95.5 550V551M96.5 550V551M97.5 550V551M98.5 550V551M99.5 550V551M100.5 549V551M101.5 550V551M102.5 550V551M103.5 550V551M104.5 550V551M105.5 550V551M106.5 550V551M107.5 550V551M108.5 550V551M109.5 550V551M110.5 550V551M111.5 550V551M112.5 550V551M113.5 550V551M114.5 550V551M115.5 550V551M116.5 549V551M117.5 550V551M118.5 550V551M119.5 550V551M120.5 550V551M121.5 550V551M122.5 550V551M123.5 550V551M124.5 550V551M125.5 550V551M126.5 550V551M127.5 550V551M128.5 550V551M129.5 550V551M130.5 550V551M131.5 550V551M132.5 550V551M133.5 550V551M134.5 550V551M135.5 550V551M136.5 550V551M137.5 550V551M138.5 550V551M139.5 550V551M140.5 550V551M141.5 550V551M142.5 550V551M143.5 550V551M144.5 550V551M145.5 549V551M146.5 550V551M147.5 550V551M148.5 550V551M149.5 550V551M150.5 550V551M151.5 550V551M152.5 550V551M153.5 550V551M154.5 550V551M155.5 550V551M156.5 550V551M157.5 550V551M158.5 550V551M159.5 550V551M160.5 550V551M161.5 550V551M162.5 550V551M163.5 550V551M164.5 550V551M165.5 550V551M166.5 550V551M167.5 550V551M168.5 550V551M169.5 550V551M170.5 550V551M171.5 550V551M172.5 550V551M173.5 550V551M174.5 550V551M175.5 550V551M176.5 550V551M177.5 550V551M178.5 550V551M179.5 550V551M180.5 550V551M181.5 550V551M182.5 550V551M183.5 550V551M184.5 550V551M185.5 550V551M186.5 549V551M187.5 549V551M188.5 550V551M189.5 549V551M190.5 549V551M191.5 549V551M192.5 549V551M193.5 549V551M194.5 549V551M195.5 549V551M196.5 549V551M197.5 549V551M198.5 549V551M199.5 549V551M200.5 549V551M201.5 549V551M202.5 549V551M203.5 549V551M204.5 550V551M205.5 549V551M206.5 550V551M207.5 549V551M208.5 550V551M209.5 549V551M210.5 549V551M211.5 549V551M212.5 550V551M213.5 549V551M214.5 549V551M215.5 549V551M216.5 549V551M217.5 549V551M218.5 549V551M219.5 549V551M220.5 549V551M221.5 550V551M222.5 549V551M223.5 549V551M224.5 549V551M225.5 550V551M226.5 549V551M227.5 549V551M228.5 549V551M229.5 550V551M230.5 549V551M231.5 550V551M232.5 549V551M233.5 549V551M234.5 549V551M235.5 549V551M236.5 550V551M237.5 549V551M238.5 549V551M239.5 550V551M240.5 549V551M241.5 549V551M242.5 549V551M243.5 549V551M244.5 549V551M245.5 549V551M246.5 549V551M247.5 549V551M248.5 549V551M249.5 549V551M250.5 549V551M251.5 549V551M252.5 549V551M253.5 549V551M254.5 549V551M255.5 549V551M256.5 549V551M257.5 550V551M258.5 549V551M259.5 549V551M260.5 549V551M261.5 549V551M262.5 550V551M263.5 549V551M264.5 549V551M265.5 549V551M266.5 549V551M267.5 549V551M268.5 549V551M269.5 550V551M270.5 549V551M271.5 550V551M272.5 550V551M273.5 549V551M274.5 550V551M275.5 549V551M276.5 549V551M277.5 550V551M278.5 549V551M279.5 549V551M280.5 549V551M281.5 549V551M282.5 550V551M283.5 550V551M284.5 549V551M285.5 549V551M286.5 549V551M287.5 549V551M288.5 549V551M289.5 549V551M290.5 549V551M291.5 549V551M292.5 549V551M293.5 549V551M294.5 549V551M295.5 550V551M296.5 550V551M297.5 549V551M298.5 549V551M299.5 550V551M300.5 549V551M301.5 549V551M302.5 549V551M303.5 549V551M304.5 549V551M305.5 549V551M306.5 549V551M307.5 549V551M308.5 549V551M309.5 549V551M310.5 549V551M311.5 549V551M312.5 549V551M313.5 549V551M314.5 549V551M315.5 549V551M316.5 549V551M317.5 549V551M318.5 549V551M319.5 549V551M320.5 550V551M321.5 549V551M322.5 549V551M323.5 549V551M324.5 550V551M325.5 549V551M326.5 549V551M327.5 550V551M328.5 550V551M329.5 549V551M452.5 550V551M453.5 550V551M454.5 550V551M455.5 550V551M456.5 550V551M457.5 550V551M458.5 550V551M459.5 550V551M460.5 549V551M461.5 550V551M462.5 550V551M463.5 550V551M464.5 550V551M465.5 550V551M466.5 550V551M467.5 550V551M468.5 550V551M469.5 550V551M470.5 550V551M471.5 550V551M472.5 550V551M473.5 549V551M474.5 550V551M475.5 550V551M476.5 550V551M477.5 550V551M478.5 550V551M479.5 550V551M480.5 550V551M481.5 550V551M482.5 550V551M483.5 550V551M484.5 550V551M485.5 550V551M486.5 550V551M487.5 550V551M488.5 550V551M489.5 550V551M490.5 550V551M491.5 550V551M492.5 550V551M493.5 550V551M494.5 549V551M495.5 550V551M496.5 550V551M497.5 550V551M498.5 550V551M499.5 549V551M500.5 550V551M501.5 550V551M502.5 549V551M503.5 550V551M504.5 550V551M505.5 550V551M506.5 550V551M507.5 549V551M508.5 550V551M509.5 550V551M510.5 550V551M511.5 550V551M512.5 550V551M513.5 550V551M514.5 550V551M515.5 550V551M516.5 550V551M517.5 550V551M518.5 550V551M519.5 550V551M520.5 550V551M521.5 550V551M522.5 550V551M523.5 550V551M524.5 550V551M525.5 550V551M526.5 550V551M527.5 550V551M528.5 550V551M529.5 550V551M530.5 550V551M531.5 550V551M532.5 550V551M533.5 550V551M534.5 550V551M535.5 550V551M536.5 550V551M537.5 550V551M538.5 550V551M539.5 550V551M540.5 550V551M541.5 550V551M542.5 550V551M543.5 550V551M544.5 550V551M545.5 550V551M546.5 550V551M547.5 550V551M548.5 550V551M549.5 550V551M550.5 550V551M551.5 550V551M552.5 550V551M553.5 550V551M554.5 550V551M555.5 550V551M556.5 550V551M557.5 550V551M558.5 550V551M559.5 550V551M560.5 549V551M561.5 550V551M562.5 550V551M563.5 550V551M564.5 550V551M565.5 550V551M566.5 550V551M567.5 550V551M568.5 550V551M569.5 550V551M570.5 550V551M571.5 550V551M572.5 550V551M573.5 550V551M574.5 550V551M575.5 550V551M576.5 550V551M577.5 550V551M578.5 550V551M579.5 550V551M580.5 550V551M581.5 550V551M582.5 550V551M583.5 550V551M584.5 550V551M585.5 550V551M586.5 550V551M587.5 550V551M588.5 550V551M589.5 550V551M590.5 550V551M591.5 550V551M592.5 550V551M593.5 550V551M594.5 550V551M595.5 550V551M596.5 550V551M597.5 550V551M598.5 550V551M599.5 550V551M600.5 550V551M601.5 550V551M602.5 550V551M603.5 550V551M604.5 550V551M605.5 550V551M606.5 550V551M607.5 550V551M608.5 550V551M609.5 550V551M610.5 550V551M611.5 550V551M612.5 550V551M613.5 550V551M614.5 550V551M615.5 550V551M616.5 550V551M617.5 550V551M618.5 550V551M619.5 549V551M620.5 550V551M621.5 550V551M622.5 550V551M623.5 550V551M624.5 550V551M625.5 550V551M626.5 550V551M627.5 550V551M628.5 550V551M629.5 550V551M630.5 550V551M631.5 550V551M632.5 550V551M633.5 550V551M634.5 550V551M635.5 550V551M636.5 550V551M637.5 550V551M638.5 550V551M639.5 550V551M640.5 550V551M641.5 550V551M642.5 550V551M643.5 550V551M644.5 550V551M645.5 550V551M646.5 550V551M647.5 550V551M648.5 550V551M649.5 550V551M650.5 550V551M651.5 550V551M652.5 550V551M653.5 550V551M654.5 550V551M655.5 550V551M656.5 550V551M657.5 550V551M658.5 550V551M659.5 550V551M660.5 550V551M661.5 550V551M662.5 550V551M663.5 550V551M664.5 550V551M665.5 550V551M666.5 550V551M667.5 550V551M668.5 550V551M669.5 550V551M670.5 550V551M671.5 550V551M672.5 550V551M673.5 550V551M674.5 550V551M675.5 550V551M676.5 550V551M677.5 550V551M678.5 550V551M679.5 550V551M680.5 550V551M681.5 550V551M682.5 550V551M683.5 550V551M684.5 549V551M685.5 550V551M686.5 550V551M687.5 550V551M688.5 550V551M689.5 550V551M690.5 550V551M691.5 550V551M692.5 550V551M693.5 550V551M694.5 550V551M695.5 550V551M696.5 550V551M697.5 550V551M698.5 550V551M699.5 550V551M700.5 550V551M701.5 550V551M702.5 550V551M703.5 550V551M704.5 550V551M705.5 550V551M706.5 550V551M707.5 550V551M708.5 550V551M709.5 550V551M710.5 550V551M711.5 550V551M712.5 550V551M713.5 550V551M714.5 550V551M715.5 550V551M716.5 550V551M717.5 550V551M718.5 550V551M719.5 550V551M720.5 550V551M721.5 550V551M722.5 550V551M723.5 550V551M724.5 550V551M725.5 550V551M726.5 550V551M727.5 550V551M728.5 550V551M729.5 550V551M730.5 550V551M731.5 550V551M732.5 550V551M733.5 550V551M734.5 550V551M735.5 550V551M736.5 550V551M737.5 550V551M738.5 550V551M739.5 550V551M740.5 550V551M741.5 549V551M742.5 550V551M743.5 550V551M744.5 550V551M745.5 550V551M746.5 550V551M747.5 550V551M748.5 550V551M749.5 550V551M750.5 550V551M751.5 550V551M752.5 550V551M753.5 550V551M754.5 550V551M755.5 550V551M756.5 550V551M757.5 550V551M758.5 549V551M759.5 550V551M760.5 549V551M761.5 549V551M762.5 549V551M763.5 550V551M764.5 549V551M765.5 549V551M766.5 549V551M767.5 550V551M768.5 549V551M769.5 549V551M770.5 549V551M771.5 549V551M772.5 550V551M773.5 549V551M774.5 549V551M775.5 550V551M776.5 549V551M777.5 549V551M778.5 549V551M779.5 549V551M780.5 549V551M781.5 549V551M782.5 549V551M783.5 550V551M784.5 549V551M785.5 549V551M786.5 549V551M787.5 549V551M788.5 550V551M789.5 549V551M790.5 550V551M791.5 550V551M792.5 549V551M793.5 549V551M794.5 549V551M795.5 550V551M796.5 550V551M797.5 550V551M798.5 550V551M799.5 550V551M800.5 550V551M801.5 550V551M802.5 550V551M803.5 550V551M804.5 550V551M805.5 550V551M806.5 550V551M807.5 550V551M808.5 550V551M809.5 550V551M810.5 550V551M811.5 550V551M812.5 550V551M813.5 550V551M814.5 550V551M815.5 550V551M816.5 550V551M817.5 549V551M818.5 550V551M819.5 550V551M820.5 550V551M821.5 550V551M822.5 550V551M823.5 550V551M824.5 550V551M825.5 550V551M826.5 550V551M827.5 550V551M828.5 550V551M829.5 550V551M830.5 550V551M831.5 550V551M832.5 550V551M833.5 549V551M834.5 549V551M835.5 549V551M836.5 549V551M837.5 549V551M838.5 549V551M839.5 549V551M840.5 549V551M841.5 549V551M842.5 549V551M843.5 549V551M844.5 549V551M845.5 550V551M846.5 549V551M847.5 549V551M848.5 549V551M849.5 549V551M850.5 549V551M851.5 549V551M852.5 549V551M853.5 549V551M854.5 550V551M855.5 549V551M856.5 550V551M857.5 549V551M858.5 549V551M859.5 549V551M860.5 549V551M861.5 549V551M862.5 549V551M863.5 549V551M864.5 549V551M865.5 550V551M866.5 549V551M867.5 549V551M868.5 549V551M869.5 549V551M870.5 549V551M871.5 549V551M872.5 549V551M873.5 549V551M874.5 549V551M875.5 549V551M876.5 549V551M877.5 549V551M878.5 549V551M879.5 549V551M880.5 549V551M881.5 549V551M882.5 549V551M883.5 550V551M884.5 549V551M885.5 550V551M886.5 549V551M887.5 549V551M888.5 549V551M889.5 549V551M890.5 549V551M891.5 549V551M892.5 549V551M893.5 550V551M894.5 549V551M895.5 549V551M896.5 549V551M897.5 549V551M898.5 549V551M899.5 549V551M900.5 549V551M901.5 548V551M902.5 549V551M903.5 549V551M904.5 549V551M905.5 549V551M906.5 549V551M907.5 549V551M908.5 550V551M909.5 549V551M910.5 549V551M911.5 549V551M912.5 549V551M913.5 549V551M914.5 549V551M915.5 550V551M916.5 549V551M917.5 549V551M918.5 548V551M919.5 549V551M920.5 549V551M921.5 549V551M922.5 549V551M923.5 550V551M924.5 549V551M925.5 549V551M926.5 549V551M927.5 549V551M928.5 548V551M929.5 549V551M930.5 549V551M931.5 549V551M932.5 549V551M933.5 550V551M934.5 550V551M935.5 550V551M936.5 550V551M937.5 550V551M938.5 550V551M939.5 550V551M940.5 550V551M941.5 550V551M942.5 550V551M943.5 550V551M944.5 550V551M945.5 550V551M946.5 550V551M947.5 550V551M948.5 550V551M949.5 550V551M950.5 550V551M951.5 550V551M952.5 550V551M953.5 550V551M954.5 550V551M955.5 550V551M956.5 549V551M957.5 550V551M958.5 549V551M959.5 550V551M960.5 549V551M961.5 550V551M962.5 549V551M963.5 550V551M964.5 550V551M965.5 550V551M966.5 550V551M967.5 550V551M968.5 550V551M969.5 550V551M970.5 549V551M971.5 550V551M972.5 550V551M973.5 550V551M974.5 550V551M975.5 550V551M976.5 550V551M977.5 549V551M978.5 550V551M979.5 550V551M980.5 550V551M981.5 550V551M982.5 549V551M983.5 549V551M984.5 549V551M985.5 549V551M986.5 550V551M987.5 550V551M988.5 549V551M989.5 550V551M990.5 550V551M991.5 550V551M992.5 550V551M993.5 550V551M994.5 550V551M995.5 550V551M996.5 550V551M997.5 550V551M998.5 550V551M999.5 550V551M1000.5 550V551M1001.5 550V551M1002.5 550V551M1003.5 550V551M1004.5 550V551M1005.5 550V551M1006.5 550V551M1007.5 550V551M1008.5 549V551M1009.5 550V551M1010.5 550V551M1011.5 549V551M1012.5 550V551M1013.5 550V551M1014.5 550V551M1015.5 550V551M1016.5 550V551M1017.5 550V551M1018.5 550V551M1019.5 550V551M1020.5 550V551M1021.5 550V551M1022.5 550V551M1023.5 550V551M1024.5 549V551M1025.5 550V551M1026.5 550V551M1027.5 550V551M1028.5 549V551M1029.5 550V551M1030.5 550V551M1031.5 550V551M1032.5 549V551M1033.5 550V551M1034.5 550V551M1035.5 550V551M1036.5 550V551M1037.5 550V551M1038.5 550V551M1039.5 550V551M1040.5 550V551M1041.5 550V551M1042.5 550V551M1043.5 550V551M1044.5 550V551M1045.5 550V551M1046.5 550V551M1047.5 550V551M1048.5 550V551M1049.5 550V551M1050.5 550V551M1051.5 550V551M1052.5 550V551M1053.5 550V551M1054.5 550V551M1055.5 550V551M1056.5 550V551M1057.5 550V551M1058.5 550V551M1059.5 550V551M1060.5 550V551M1061.5 549V551M1062.5 550V551M1063.5 550V551M1064.5 549V551M1065.5 550V551M1066.5 550V551M1067.5 550V551M1068.5 550V551M1069.5 550V551M1070.5 550V551M1071.5 549V551M1072.5 550V551M1073.5 549V551M1074.5 550V551M1075.5 549V551M1076.5 548V551M1077.5 549V551M1078.5 548V551M1079.5 549V551M1080.5 548V551M1081.5 549V551M1082.5 549V551M1083.5 549V551M1084.5 548V551M1085.5 549V551M1086.5 549V551M1087.5 549V551M1088.5 549V551M1089.5 548V551M1090.5 548V551M1091.5 548V551M1092.5 549V551M1093.5 549V551M1094.5 548V551M1095.5 548V551M1096.5 549V551M1097.5 548V551M1098.5 549V551M1099.5 548V551M1100.5 549V551M1101.5 549V551M1102.5 548V551M1103.5 549V551M1104.5 549V551M1105.5 549V551M1106.5 548V551M1107.5 549V551M1108.5 548V551M1109.5 549V551M1110.5 549V551M1111.5 549V551M1112.5 549V551M1113.5 548V551M1114.5 549V551M1115.5 549V551M1116.5 549V551M1117.5 548V551M1118.5 548V551M1119.5 549V551M1120.5 549V551M1121.5 549V551M1122.5 548V551M1123.5 548V551M1124.5 549V551M1125.5 548V551M1126.5 549V551M1127.5 549V551M1128.5 548V551M1129.5 549V551M1130.5 549V551M1131.5 549V551M1132.5 549V551M1133.5 549V551M1134.5 548V551M1135.5 549V551M1136.5 548V551M1137.5 549V551M1138.5 548V551M1139.5 549V551M1140.5 546V551M1141.5 544V551M1142.5 547V551M1143.5 544V551M1144.5 548V551M1145.5 547V551M1146.5 545V551M1147.5 547V551M1148.5 538V551M1149.5 546V551M1150.5 541V551M1151.5 532V551M1152.5 547V551M1153.5 548V551M1154.5 543V551M1155.5 547V551M1156.5 548V551M1157.5 544V551M1158.5 547V551M1159.5 548V551M1160.5 548V551M1161.5 548V551M1162.5 547V551M1163.5 543V551M1164.5 544V551M1165.5 548V551M1166.5 544V551M1167.5 545V551M1168.5 547V551M1169.5 545V551M1170.5 546V551M1171.5 545V551" stroke="#0080ff" stroke-width="1" fill="none"/>
<path d="M80.5 524V525M81.5 523V524M82.5 522V523M83.5 521V522M84.5 521V522M85.5 520V521M86.5 519V520M87.5 518V519M88.5 517V518M89.5 516V517M90.5 516V517M91.5 515V516M92.5 513V515M93.5 511V513M94.5 509V511M95.5 506V509M96.5 504V506M97.5 502V504M98.5 502V503M99.5 502V503M100.5 502V504M101.5 504V507M102.5 507V511M103.5 511V513M104.5 511V512M105.5 510V511M106.5 509V510M107.5 508V509M108.5 507V511M109.5 511V519M110.5 519V527M111.5 527V531M112.5 526V529M113.5 522V526M114.5 519V522M115.5 516V519M116.5 512V516M117.5 509V512M118.5 506V509M119.5 504V506M120.5 502V504M121.5 499V502M122.5 497V499M123.5 495V497M124.5 493V495M125.5 491V493M126.5 489V491M127.5 487V489M128.5 485V487M129.5 483V485M130.5 484V486M131.5 486V487M132.5 487V489M133.5 489V490M134.5 487V489M135.5 485V487M136.5 483V488M137.5 488V497M138.5 497V505M139.5 505V514M140.5 514V519M141.5 514V517M142.5 511V514M143.5 509V511M144.5 506V509M145.5 503V506M146.5 500V503M147.5 498V500M148.5 498V499M149.5 498V499M150.5 498V499M151.5 498V500M152.5 500V502M153.5 502V504M154.5 504V509M155.5 509V515M156.5 515V522M157.5 522V528M158.5 528V532M159.5 529V531M160.5 528V529M161.5 526V528M162.5 525V526M163.5 523V525M164.5 519V523M165.5 512V519M166.5 504V512M167.5 497V504M168.5 492V497M169.5 489V492M170.5 485V489M171.5 482V485M172.5 480V487M173.5 487V499M174.5 499V511M175.5 511V518M176.5 509V515M177.5 503V509M178.5 497V503M179.5 494V498M180.5 498V506M181.5 505V511M182.5 493V505M183.5 481V493M184.5 474V481M185.5 470V474M186.5 466V470M187.5 459V466M188.5 451V459M189.5 442V451M190.5 437V442M191.5 436V437M192.5 436V437M193.5 435V436M194.5 436V437M195.5 437V438M196.5 438V440M197.5 440V444M198.5 444V448M199.5 448V451M200.5 446V449M201.5 442V446M202.5 439V442M203.5 433V439M204.5 423V433M205.5 418V423M206.5 419V420M207.5 419V420M208.5 420V422M209.5 422V425M210.5 425V429M211.5 429V432M212.5 432V435M213.5 435V438M214.5 438V442M215.5 442V444M216.5 442V443M217.5 442V443M218.5 441V442M219.5 441V442M220.5 440V441M221.5 439V440M222.5 438V439M223.5 437V438M224.5 435V437M225.5 434V435M226.5 433V434M227.5 432V433M228.5 430V432M229.5 429V430M230.5 427V429M231.5 426V427M232.5 424V426M233.5 423V424M234.5 424V426M235.5 426V428M236.5 428V430M237.5 430V433M238.5 433V437M239.5 437V441M240.5 441V446M241.5 446V451M242.5 451V455M243.5 455V460M244.5 458V463M245.5 448V458M246.5 438V448M247.5 419V438M248.5 403V419M249.5 403V404M250.5 402V403M251.5 402V403M252.5 402V403M253.5 400V402M254.5 398V400M255.5 397V399M256.5 399V403M257.5 403V407M258.5 407V411M259.5 410V413M260.5 405V410M261.5 401V405M262.5 396V401M263.5 392V396M264.5 390V392M265.5 387V390M266.5 385V387M267.5 383V385M268.5 381V383M269.5 379V381M270.5 377V379M271.5 374V377M272.5 370V374M273.5 368V370M274.5 366V368M275.5 364V366M276.5 362V364M277.5 359V362M278.5 357V359M279.5 355V357M280.5 346V355M281.5 331V346M282.5 323V331M283.5 331V346M284.5 346V354M285.5 348V352M286.5 344V348M287.5 340V344M288.5 336V340M289.5 332V336M290.5 329V332M291.5 325V329M292.5 323V326M293.5 326V330M294.5 330V335M295.5 335V338M296.5 334V336M297.5 332V334M298.5 330V332M299.5 331V333M300.5 333V335M301.5 335V337M302.5 337V339M303.5 334V337M304.5 331V334M305.5 327V331M306.5 324V327M307.5 322V324M308.5 323V324M309.5 324V325M310.5 325V327M311.5 327V328M312.5 328V329M313.5 328V329M314.5 329V330M315.5 329V330M316.5 330V331M317.5 329V331M318.5 326V329M319.5 323V326M320.5 320V323M321.5 317V320M322.5 315V317M323.5 313V315M324.5 311V313M325.5 309V311M326.5 307V309M327.5 305V307M328.5 305V306M329.5 305V306M330.5 306V307M331.5 307V309M332.5 309V310M333.5 309V311M334.5 307V309M335.5 304V307M336.5 302V304M337.5 300V302M338.5 302V304M339.5 304V306M340.5 306V311M341.5 311V317M342.5 317V323M343.5 323V329M344.5 329V333M345.5 324V330M346.5 319V324M347.5 313V319M348.5 310V313M349.5 310V311M350.5 309V310M351.5 309V310M352.5 309V310M353.5 310V311M354.5 311V313M355.5 311V314M356.5 306V311M357.5 302V306M358.5 297V302M359.5 294V297M360.5 295V297M361.5 297V299M362.5 299V301M363.5 301V305M364.5 305V310M365.5 310V315M366.5 315V320M367.5 320V325M368.5 325V330M369.5 330V333M370.5 327V331M371.5 324V327M372.5 320V324M373.5 318V320M374.5 317V318M375.5 316V317M376.5 316V317M377.5 313V316M378.5 309V313M379.5 304V309M380.5 301V304M381.5 303V307M382.5 307V311M383.5 311V315M384.5 315V318M385.5 316V317M386.5 314V316M387.5 313V315M388.5 315V317M389.5 317V319M390.5 319V322M391.5 322V324M392.5 324V326M393.5 326V329M394.5 329V333M395.5 333V336M396.5 336V340M397.5 340V344M398.5 344V346M399.5 341V344M400.5 338V341M401.5 335V338M402.5 332V335M403.5 328V332M404.5 324V328M405.5 320V324M406.5 316V320M407.5 313V316M408.5 310V313M409.5 306V310M410.5 303V306M411.5 300V303M412.5 298V302M413.5 302V308M414.5 308V314M415.5 314V320M416.5 320V326M417.5 324V330M418.5 314V324M419.5 303V314M420.5 294V303M421.5 286V294M422.5 278V286M423.5 273V278M424.5 278V287M425.5 287V297M426.5 297V306M427.5 306V311M428.5 297V306M429.5 288V297M430.5 283V288M431.5 282V283M432.5 281V282M433.5 280V281M434.5 281V283M435.5 283V284M436.5 284V286M437.5 286V288M438.5 288V289M439.5 289V290M440.5 290V292M441.5 292V293M442.5 293V294M443.5 291V293M444.5 289V291M445.5 286V289M446.5 282V286M447.5 278V282M448.5 274V278M449.5 272V274M450.5 274V277M451.5 277V281M452.5 281V283M453.5 282V283M454.5 283V284M455.5 283V284M456.5 283V284M457.5 283V284M458.5 284V285M459.5 284V285M460.5 283V284M461.5 281V283M462.5 280V281M463.5 278V280M464.5 276V278M465.5 274V276M466.5 272V274M467.5 273V275M468.5 275V276M469.5 276V278M470.5 278V279M471.5 279V281M472.5 281V283M473.5 283V285M474.5 284V286M475.5 280V284M476.5 277V280M477.5 273V277M478.5 271V273M479.5 272V274M480.5 274V276M481.5 276V277M482.5 275V276M483.5 275V276M484.5 274V275M485.5 274V275M486.5 275V277M487.5 277V279M488.5 278V280M489.5 275V278M490.5 272V275M491.5 270V272M492.5 272V274M493.5 274V277M494.5 277V279M495.5 276V281M496.5 268V276M497.5 260V268M498.5 255V260M499.5 257V261M500.5 261V265M501.5 265V267M502.5 265V266M503.5 264V265M504.5 264V265M505.5 263V264M506.5 262V264M507.5 264V268M508.5 268V272M509.5 272V275M510.5 270V273M511.5 267V270M512.5 264V267M513.5 261V264M514.5 259V261M515.5 257V259M516.5 255V257M517.5 253V255M518.5 252V254M519.5 254V257M520.5 257V261M521.5 261V263M522.5 262V263M523.5 261V262M524.5 261V262M525.5 261V265M526.5 265V273M527.5 273V281M528.5 281V286M529.5 277V283M530.5 271V277M531.5 268V271M532.5 267V268M533.5 266V267M534.5 266V267M535.5 265V266M536.5 264V265M537.5 263V264M538.5 263V264M539.5 262V263M540.5 261V262M541.5 260V261M542.5 259V260M543.5 260V262M544.5 262V263M545.5 263V265M546.5 265V266M547.5 266V267M548.5 267V269M549.5 269V270M550.5 269V271M551.5 267V269M552.5 265V267M553.5 263V265M554.5 261V263M555.5 260V261M556.5 259V260M557.5 259V260M558.5 258V259M559.5 259V260M560.5 259V260M561.5 260V262M562.5 262V266M563.5 266V270M564.5 270V273M565.5 272V273M566.5 271V272M567.5 271V272M568.5 271V273M569.5 273V276M570.5 276V280M571.5 280V282M572.5 280V281M573.5 278V280M574.5 277V278M575.5 276V278M576.5 278V281M577.5 281V284M578.5 284V286M579.5 280V284M580.5 277V280M581.5 273V277M582.5 271V273M583.5 271V272M584.5 272V273M585.5 272V273M586.5 272V274M587.5 274V277M588.5 277V280M589.5 280V284M590.5 284V287M591.5 287V290M592.5 290V292M593.5 287V290M594.5 285V287M595.5 282V285M596.5 280V282M597.5 278V280M598.5 277V278M599.5 275V277M600.5 274V275M601.5 275V276M602.5 276V278M603.5 278V279M604.5 279V280M605.5 279V280M606.5 278V279M607.5 278V279M608.5 278V279M609.5 278V279M610.5 279V280M611.5 279V280M612.5 279V280M613.5 278V279M614.5 278V279M615.5 277V278M616.5 276V277M617.5 276V277M618.5 275V276M619.5 276V278M620.5 278V280M621.5 280V281M622.5 280V281M623.5 279V280M624.5 279V280M625.5 278V279M626.5 278V279M627.5 278V279M628.5 278V279M629.5 279V280M630.5 279V280M631.5 279V280M632.5 280V282M633.5 282V283M634.5 283V284M635.5 284V286M636.5 286V287M637.5 284V286M638.5 283V284M639.5 281V283M640.5 279V281M641.5 278V279M642.5 279V280M643.5 279V280M644.5 280V281M645.5 280V282M646.5 282V284M647.5 284V286M648.5 286V289M649.5 289V291M650.5 291V293M651.5 289V291M652.5 287V289M653.5 284V287M654.5 282V284M655.5 280V282M656.5 280V281M657.5 280V281M658.5 279V280M659.5 279V280M660.5 279V280M661.5 279V280M662.5 279V280M663.5 280V281M664.5 280V281M665.5 280V281M666.5 280V281M667.5 281V283M668.5 283V285M669.5 284V286M670.5 280V284M671.5 278V280M672.5 279V281M673.5 281V282M674.5 282V284M675.5 284V285M676.5 282V284M677.5 280V282M678.5 279V280M679.5 280V281M680.5 281V282M681.5 282V283M682.5 282V283M683.5 282V283M684.5 281V282M685.5 281V282M686.5 281V282M687.5 282V283M688.5 282V283M689.5 283V284M690.5 283V284M691.5 284V285M692.5 284V285M693.5 283V284M694.5 283V284M695.5 282V283M696.5 282V283M697.5 283V285M698.5 285V287M699.5 287V289M700.5 289V291M701.5 289V290M702.5 288V289M703.5 287V288M704.5 286V287M705.5 285V286M706.5 284V285M707.5 283V284M708.5 282V283M709.5 283V285M710.5 285V286M711.5 286V288M712.5 288V289M713.5 288V289M714.5 289V290M715.5 289V290M716.5 289V290M717.5 290V291M718.5 290V291M719.5 290V291M720.5 291V292M721.5 291V292M722.5 291V292M723.5 292V293M724.5 293V294M725.5 294V295M726.5 295V296M727.5 296V298M728.5 298V299M729.5 299V301M730.5 301V302M731.5 299V301M732.5 298V299M733.5 297V298M734.5 295V297M735.5 294V295M736.5 294V295M737.5 294V295M738.5 295V296M739.5 295V296M740.5 295V296M741.5 296V297M742.5 296V297M743.5 297V298M744.5 297V298M745.5 298V299M746.5 299V300M747.5 300V301M748.5 300V301M749.5 301V302M750.5 302V303M751.5 302V303M752.5 302V303M753.5 301V302M754.5 301V302M755.5 301V302M756.5 301V302M757.5 302V304M758.5 304V306M759.5 306V308M760.5 308V310M761.5 310V311M762.5 308V310M763.5 307V308M764.5 306V307M765.5 304V306M766.5 303V304M767.5 301V303M768.5 300V301M769.5 300V301M770.5 300V301M771.5 300V301M772.5 300V301M773.5 300V301M774.5 300V301M775.5 301V303M776.5 303V304M777.5 304V306M778.5 306V307M779.5 307V309M780.5 309V310M781.5 308V309M782.5 307V308M783.5 306V307M784.5 305V306M785.5 304V305M786.5 304V305M787.5 304V305M788.5 304V305M789.5 304V305M790.5 304V305M791.5 303V304M792.5 302V303M793.5 302V303M794.5 301V302M795.5 302V304M796.5 304V306M797.5 306V307M798.5 307V309M799.5 309V311M800.5 311V312M801.5 310V311M802.5 309V310M803.5 308V309M804.5 307V308M805.5 307V308M806.5 306V307M807.5 305V306M808.5 304V305M809.5 303V304M810.5 303V304M811.5 302V303M812.5 303V304M813.5 304V305M814.5 304V305M815.5 305V306M816.5 304V305M817.5 304V305M818.5 303V304M819.5 303V304M820.5 302V303M821.5 302V303M822.5 302V303M823.5 301V302M824.5 301V302M825.5 301V302M826.5 301V302M827.5 302V303M828.5 302V303M829.5 303V304M830.5 303V304M831.5 304V305M832.5 304V305M833.5 303V304M834.5 303V304M835.5 303V304M836.5 303V304M837.5 302V303M838.5 302V303M839.5 302V303M840.5 302V303M841.5 302V303M842.5 302V303M843.5 302V303M844.5 302V303M845.5 303V305M846.5 305V307M847.5 307V309M848.5 309V311M849.5 307V309M850.5 304V307M851.5 302V304M852.5 303V304M853.5 304V305M854.5 305V307M855.5 307V308M856.5 308V309M857.5 308V309M858.5 308V309M859.5 309V310M860.5 309V310M861.5 309V310M862.5 309V310M863.5 307V309M864.5 305V307M865.5 304V305M866.5 304V305M867.5 304V305M868.5 304V305M869.5 304V305M870.5 304V305M871.5 305V306M872.5 305V306M873.5 305V306M874.5 306V307M875.5 306V307M876.5 307V308M877.5 307V308M878.5 308V309M879.5 308V309M880.5 309V310M881.5 309V310M882.5 309V310M883.5 309V310M884.5 309V310M885.5 310V311M886.5 311V313M887.5 313V314M888.5 314V315M889.5 315V317M890.5 317V318M891.5 318V320M892.5 320V321M893.5 321V322M894.5 321V322M895.5 322V323M896.5 323V324M897.5 323V324M898.5 324V325M899.5 322V324M900.5 320V322M901.5 318V320M902.5 316V318M903.5 316V317M904.5 316V317M905.5 316V317M906.5 316V317M907.5 316V317M908.5 316V317M909.5 317V318M910.5 318V319M911.5 318V319M912.5 319V320M913.5 319V320M914.5 319V320M915.5 319V320M916.5 320V321M917.5 320V321M918.5 320V321M919.5 320V321M920.5 321V322M921.5 322V323M922.5 323V325M923.5 325V326M924.5 326V327M925.5 326V327M926.5 325V326M927.5 325V326M928.5 324V325M929.5 324V325M930.5 324V325M931.5 324V325M932.5 324V325M933.5 324V325M934.5 324V325M935.5 324V325M936.5 324V325M937.5 324V325M938.5 324V325M939.5 325V326M940.5 326V327M941.5 327V328M942.5 327V328M943.5 328V329M944.5 329V330M945.5 328V329M946.5 328V329M947.5 327V328M948.5 326V327M949.5 326V327M950.5 325V326M951.5 324V325M952.5 324V325M953.5 323V324M954.5 323V324M955.5 322V323M956.5 322V323M957.5 323V324M958.5 323V324M959.5 324V325M960.5 324V325M961.5 325V327M962.5 327V329M963.5 329V331M964.5 331V332M965.5 331V332M966.5 331V332M967.5 331V332M968.5 330V331M969.5 330V331M970.5 330V331M971.5 330V331M972.5 329V330M973.5 329V330M974.5 328V329M975.5 328V329M976.5 329V331M977.5 331V332M978.5 332V334M979.5 333V335M980.5 330V333M981.5 328V330M982.5 329V330M983.5 329V330M984.5 330V331M985.5 330V331M986.5 331V332M987.5 330V331M988.5 330V331M989.5 329V330M990.5 329V330M991.5 329V330M992.5 329V330M993.5 329V330M994.5 329V330M995.5 329V331M996.5 331V333M997.5 333V336M998.5 336V338M999.5 338V340M1000.5 335V338M1001.5 331V335M1002.5 329V331M1003.5 331V334M1004.5 334V337M1005.5 337V340M1006.5 339V342M1007.5 335V339M1008.5 331V335M1009.5 328V331M1010.5 329V330M1011.5 330V332M1012.5 332V333M1013.5 332V333M1014.5 331V332M1015.5 331V332M1016.5 331V332M1017.5 330V331M1018.5 330V331M1019.5 330V331M1020.5 329V330M1021.5 329V330M1022.5 329V330M1023.5 328V329M1024.5 328V331M1025.5 331V337M1026.5 337V343M1027.5 343V346M1028.5 342V344M1029.5 339V342M1030.5 337V339M1031.5 335V337M1032.5 334V335M1033.5 334V335M1034.5 333V334M1035.5 333V334M1036.5 332V333M1037.5 333V334M1038.5 333V334M1039.5 334V335M1040.5 334V335M1041.5 335V336M1042.5 334V335M1043.5 333V334M1044.5 333V334M1045.5 332V333M1046.5 331V332M1047.5 332V333M1048.5 333V335M1049.5 335V336M1050.5 336V337M1051.5 337V339M1052.5 339V340M1053.5 338V339M1054.5 337V338M1055.5 336V337M1056.5 335V336M1057.5 335V336M1058.5 334V335M1059.5 333V334M1060.5 332V333M1061.5 333V334M1062.5 334V335M1063.5 335V337M1064.5 337V338M1065.5 338V339M1066.5 336V338M1067.5 335V336M1068.5 334V335M1069.5 332V334M1070.5 331V332M1071.5 332V334M1072.5 334V335M1073.5 335V336M1074.5 336V338M1075.5 338V339M1076.5 338V339M1077.5 338V339M1078.5 339V340M1079.5 339V340M1080.5 339V340M1081.5 339V340M1082.5 339V340M1083.5 338V339M1084.5 338V339M1085.5 338V339M1086.5 339V341M1087.5 341V342M1088.5 342V344M1089.5 344V345M1090.5 342V344M1091.5 340V342M1092.5 339V340M1093.5 337V339M1094.5 335V337M1095.5 334V335M1096.5 335V336M1097.5 336V337M1098.5 337V338M1099.5 338V339M1100.5 339V341M1101.5 341V343M1102.5 343V345M1103.5 343V344M1104.5 343V344M1105.5 342V343M1106.5 342V343M1107.5 341V342M1108.5 341V342M1109.5 339V341M1110.5 338V339M1111.5 338V339M1112.5 339V340M1113.5 339V340M1114.5 340V341M1115.5 340V341M1116.5 340V341M1117.5 340V341M1118.5 339V340M1119.5 339V340M1120.5 339V340M1121.5 340V341M1122.5 341V342M1123.5 341V342M1124.5 342V343M1125.5 342V343M1126.5 341V342M1127.5 341V342M1128.5 341V342M1129.5 342V343M1130.5 343V344M1131.5 344V345M1132.5 344V345M1133.5 343V344M1134.5 343V344M1135.5 342V343M1136.5 342V343M1137.5 342V343M1138.5 342V343M1139.5 341V342M1140.5 341V342M1141.5 341V342M1142.5 341V342M1143.5 342V343M1144.5 342V343M1145.5 343V344M1146.5 343V344M1147.5 344V345M1148.5 344V345M1149.5 345V346M1150.5 345V346M1151.5 346V347M1152.5 346V347M1153.5 346V347M1154.5 345V346M1155.5 345V346M1156.5 345V346M1157.5 346V347M1158.5 347V349M1159.5 349V350M1160.5 350V351M1161.5 349V350M1162.5 347V349M1163.5 346V347M1164.5 345V346M1165.5 346V347M1166.5 347V349M1167.5 349V350M1168.5 350V351M1169.5 349V350M1170.5 347V349M1171.5 346V347M1172.5 346V347M1173.5 347V348M1174.5 347V348M1175.5 347V348M1176.5 348V349M1177.5 348V349" stroke="#ff0000" stroke-width="1" fill="none" stroke-linejoin="round"/>
<path d=" " stroke="#fff" stroke-width="1" fill="none"/>
<path d="M176.83 561.58 L172.58 567.52 L178.95 567.52 M176.83 561.58 L176.83 570.50 M183.63 561.58 L182.35 562.00 L181.50 563.27 L181.08 565.40 L181.08 566.67 L181.50 568.80 L182.35 570.08 L183.63 570.50 L184.48 570.50 L185.75 570.08 L186.60 568.80 L187.03 566.67 L187.03 565.40 L186.60 563.27 L185.75 562.00 L184.48 561.58 L183.63 561.58 M192.13 561.58 L190.85 562.00 L190.00 563.27 L189.58 565.40 L189.58 566.67 L190.00 568.80 L190.85 570.08 L192.13 570.50 L192.98 570.50 L194.25 570.08 L195.10 568.80 L195.53 566.67 L195.53 565.40 L195.10 563.27 L194.25 562.00 L192.98 561.58 L192.13 561.58 M200.63 561.58 L199.35 562.00 L198.50 563.27 L198.08 565.40 L198.08 566.67 L198.50 568.80 L199.35 570.08 L200.63 570.50 L201.48 570.50 L202.75 570.08 L203.60 568.80 L204.03 566.67 L204.03 565.40 L203.60 563.27 L202.75 562.00 L201.48 561.58 L200.63 561.58 M357.35 561.58 L353.10 561.58 L352.68 565.40 L353.10 564.98 L354.38 564.55 L355.65 564.55 L356.93 564.98 L357.78 565.83 L358.20 567.10 L358.20 567.95 L357.78 569.23 L356.93 570.08 L355.65 570.50 L354.38 570.50 L353.10 570.08 L352.68 569.65 L352.25 568.80 M363.30 561.58 L362.03 562.00 L361.18 563.27 L360.75 565.40 L360.75 566.67 L361.18 568.80 L362.03 570.08 L363.30 570.50 L364.15 570.50 L365.43 570.08 L366.28 568.80 L366.70 566.67 L366.70 565.40 L366.28 563.27 L365.43 562.00 L364.15 561.58 L363.30 561.58 M371.80 561.58 L370.53 562.00 L369.68 563.27 L369.25 565.40 L369.25 566.67 L369.68 568.80 L370.53 570.08 L371.80 570.50 L372.65 570.50 L373.93 570.08 L374.78 568.80 L375.20 566.67 L375.20 565.40 L374.78 563.27 L373.93 562.00 L372.65 561.58 L371.80 561.58 M380.30 561.58 L379.03 562.00 L378.18 563.27 L377.75 565.40 L377.75 566.67 L378.18 568.80 L379.03 570.08 L380.30 570.50 L381.15 570.50 L382.43 570.08 L383.28 568.80 L383.70 566.67 L383.70 565.40 L383.28 563.27 L382.43 562.00 L381.15 561.58 L380.30 561.58 M537.45 562.85 L537.02 562.00 L535.75 561.58 L534.90 561.58 L533.62 562.00 L532.77 563.27 L532.35 565.40 L532.35 567.52 L532.77 569.23 L533.62 570.08 L534.90 570.50 L535.32 570.50 L536.60 570.08 L537.45 569.23 L537.87 567.95 L537.87 567.52 L537.45 566.25 L536.60 565.40 L535.32 564.98 L534.90 564.98 L533.62 565.40 L532.77 566.25 L532.35 567.52 M542.97 561.58 L541.70 562.00 L540.85 563.27 L540.42 565.40 L540.42 566.67 L540.85 568.80 L541.70 570.08 L542.97 570.50 L543.82 570.50 L545.10 570.08 L545.95 568.80 L546.37 566.67 L546.37 565.40 L545.95 563.27 L545.10 562.00 L543.82 561.58 L542.97 561.58 M551.47 561.58 L550.20 562.00 L549.35 563.27 L548.92 565.40 L548.92 566.67 L549.35 568.80 L550.20 570.08 L551.47 570.50 L552.32 570.50 L553.60 570.08 L554.45 568.80 L554.87 566.67 L554.87 565.40 L554.45 563.27 L553.60 562.00 L552.32 561.58 L551.47 561.58 M559.97 561.58 L558.70 562.00 L557.85 563.27 L557.42 565.40 L557.42 566.67 L557.85 568.80 L558.70 570.08 L559.97 570.50 L560.82 570.50 L562.10 570.08 L562.95 568.80 L563.37 566.67 L563.37 565.40 L562.95 563.27 L562.10 562.00 L560.82 561.58 L559.97 561.58 M717.54 561.58 L713.29 570.50 M711.59 561.58 L717.54 561.58 M722.64 561.58 L721.37 562.00 L720.52 563.27 L720.09 565.40 L720.09 566.67 L720.52 568.80 L721.37 570.08 L722.64 570.50 L723.49 570.50 L724.77 570.08 L725.62 568.80 L726.04 566.67 L726.04 565.40 L725.62 563.27 L724.77 562.00 L723.49 561.58 L722.64 561.58 M731.14 561.58 L729.87 562.00 L729.02 563.27 L728.59 565.40 L728.59 566.67 L729.02 568.80 L729.87 570.08 L731.14 570.50 L731.99 570.50 L733.27 570.08 L734.12 568.80 L734.54 566.67 L734.54 565.40 L734.12 563.27 L733.27 562.00 L731.99 561.58 L731.14 561.58 M739.64 561.58 L738.37 562.00 L737.52 563.27 L737.09 565.40 L737.09 566.67 L737.52 568.80 L738.37 570.08 L739.64 570.50 L740.49 570.50 L741.77 570.08 L742.62 568.80 L743.04 566.67 L743.04 565.40 L742.62 563.27 L741.77 562.00 L740.49 561.58 L739.64 561.58 M893.39 561.58 L892.12 562.00 L891.69 562.85 L891.69 563.70 L892.12 564.55 L892.97 564.98 L894.67 565.40 L895.94 565.83 L896.79 566.67 L897.22 567.52 L897.22 568.80 L896.79 569.65 L896.37 570.08 L895.09 570.50 L893.39 570.50 L892.12 570.08 L891.69 569.65 L891.27 568.80 L891.27 567.52 L891.69 566.67 L892.54 565.83 L893.82 565.40 L895.52 564.98 L896.37 564.55 L896.79 563.70 L896.79 562.85 L896.37 562.00 L895.09 561.58 L893.39 561.58 M902.32 561.58 L901.04 562.00 L900.19 563.27 L899.77 565.40 L899.77 566.67 L900.19 568.80 L901.04 570.08 L902.32 570.50 L903.17 570.50 L904.44 570.08 L905.29 568.80 L905.72 566.67 L905.72 565.40 L905.29 563.27 L904.44 562.00 L903.17 561.58 L902.32 561.58 M910.82 561.58 L909.54 562.00 L908.69 563.27 L908.27 565.40 L908.27 566.67 L908.69 568.80 L909.54 570.08 L910.82 570.50 L911.67 570.50 L912.94 570.08 L913.79 568.80 L914.22 566.67 L914.22 565.40 L913.79 563.27 L912.94 562.00 L911.67 561.58 L910.82 561.58 M919.32 561.58 L918.04 562.00 L917.19 563.27 L916.77 565.40 L916.77 566.67 L917.19 568.80 L918.04 570.08 L919.32 570.50 L920.17 570.50 L921.44 570.08 L922.29 568.80 L922.72 566.67 L922.72 565.40 L922.29 563.27 L921.44 562.00 L920.17 561.58 L919.32 561.58 M1076.46 564.55 L1076.04 565.83 L1075.19 566.67 L1073.91 567.10 L1073.49 567.10 L1072.21 566.67 L1071.36 565.83 L1070.94 564.55 L1070.94 564.12 L1071.36 562.85 L1072.21 562.00 L1073.49 561.58 L1073.91 561.58 L1075.19 562.00 L1076.04 562.85 L1076.46 564.55 L1076.46 566.67 L1076.04 568.80 L1075.19 570.08 L1073.91 570.50 L1073.06 570.50 L1071.79 570.08 L1071.36 569.23 M1081.99 561.58 L1080.71 562.00 L1079.86 563.27 L1079.44 565.40 L1079.44 566.67 L1079.86 568.80 L1080.71 570.08 L1081.99 570.50 L1082.84 570.50 L1084.11 570.08 L1084.96 568.80 L1085.39 566.67 L1085.39 565.40 L1084.96 563.27 L1084.11 562.00 L1082.84 561.58 L1081.99 561.58 M1090.49 561.58 L1089.21 562.00 L1088.36 563.27 L1087.94 565.40 L1087.94 566.67 L1088.36 568.80 L1089.21 570.08 L1090.49 570.50 L1091.34 570.50 L1092.61 570.08 L1093.46 568.80 L1093.89 566.67 L1093.89 565.40 L1093.46 563.27 L1092.61 562.00 L1091.34 561.58 L1090.49 561.58 M1098.99 561.58 L1097.71 562.00 L1096.86 563.27 L1096.44 565.40 L1096.44 566.67 L1096.86 568.80 L1097.71 570.08 L1098.99 570.50 L1099.84 570.50 L1101.11 570.08 L1101.96 568.80 L1102.39 566.67 L1102.39 565.40 L1101.96 563.27 L1101.11 562.00 L1099.84 561.58 L1098.99 561.58 M56.45 25.70 L56.45 25.27 L56.88 24.43 L57.30 24.00 L58.15 23.58 L59.85 23.58 L60.70 24.00 L61.12 24.43 L61.55 25.27 L61.55 26.12 L61.12 26.98 L60.27 28.25 L56.02 32.50 L61.98 32.50 M65.38 31.65 L64.95 32.08 L65.38 32.50 L65.80 32.08 L65.38 31.65 M71.33 23.58 L70.05 24.00 L69.20 25.27 L68.78 27.40 L68.78 28.68 L69.20 30.80 L70.05 32.08 L71.33 32.50 L72.17 32.50 L73.45 32.08 L74.30 30.80 L74.72 28.68 L74.72 27.40 L74.30 25.27 L73.45 24.00 L72.17 23.58 L71.33 23.58 M57.30 153.28 L58.15 152.85 L59.42 151.57 L59.42 160.50 M65.38 159.65 L64.95 160.07 L65.38 160.50 L65.80 160.07 L65.38 159.65 M73.88 151.57 L69.62 151.57 L69.20 155.40 L69.62 154.97 L70.90 154.55 L72.17 154.55 L73.45 154.97 L74.30 155.82 L74.72 157.10 L74.72 157.95 L74.30 159.22 L73.45 160.07 L72.17 160.50 L70.90 160.50 L69.62 160.07 L69.20 159.65 L68.78 158.80 M57.30 285.27 L58.15 284.85 L59.42 283.57 L59.42 292.50 M65.38 291.65 L64.95 292.07 L65.38 292.50 L65.80 292.07 L65.38 291.65 M71.33 283.57 L70.05 284.00 L69.20 285.27 L68.78 287.40 L68.78 288.68 L69.20 290.80 L70.05 292.07 L71.33 292.50 L72.17 292.50 L73.45 292.07 L74.30 290.80 L74.72 288.68 L74.72 287.40 L74.30 285.27 L73.45 284.00 L72.17 283.57 L71.33 283.57 M58.58 415.57 L57.30 416.00 L56.45 417.27 L56.02 419.40 L56.02 420.68 L56.45 422.80 L57.30 424.07 L58.58 424.50 L59.42 424.50 L60.70 424.07 L61.55 422.80 L61.98 420.68 L61.98 419.40 L61.55 417.27 L60.70 416.00 L59.42 415.57 L58.58 415.57 M65.38 423.65 L64.95 424.07 L65.38 424.50 L65.80 424.07 L65.38 423.65 M73.88 415.57 L69.62 415.57 L69.20 419.40 L69.62 418.98 L70.90 418.55 L72.17 418.55 L73.45 418.98 L74.30 419.82 L74.72 421.10 L74.72 421.95 L74.30 423.23 L73.45 424.07 L72.17 424.50 L70.90 424.50 L69.62 424.07 L69.20 423.65 L68.78 422.80 M58.58 542.58 L57.30 543.00 L56.45 544.27 L56.02 546.40 L56.02 547.67 L56.45 549.80 L57.30 551.08 L58.58 551.50 L59.42 551.50 L60.70 551.08 L61.55 549.80 L61.98 547.67 L61.98 546.40 L61.55 544.27 L60.70 543.00 L59.42 542.58 L58.58 542.58 M65.38 550.65 L64.95 551.08 L65.38 551.50 L65.80 551.08 L65.38 550.65 M71.33 542.58 L70.05 543.00 L69.20 544.27 L68.78 546.40 L68.78 547.67 L69.20 549.80 L70.05 551.08 L71.33 551.50 L72.17 551.50 L73.45 551.08 L74.30 549.80 L74.72 547.67 L74.72 546.40 L74.30 544.27 L73.45 543.00 L72.17 542.58 L71.33 542.58 M583.45 576.58 L585.58 585.50 M587.70 576.58 L585.58 585.50 M587.70 576.58 L589.83 585.50 M591.95 576.58 L589.83 585.50 M599.17 579.55 L599.17 585.50 M599.17 580.83 L598.33 579.98 L597.48 579.55 L596.20 579.55 L595.35 579.98 L594.50 580.83 L594.08 582.10 L594.08 582.95 L594.50 584.23 L595.35 585.08 L596.20 585.50 L597.48 585.50 L598.33 585.08 L599.17 584.23 M601.73 579.55 L604.27 585.50 M606.83 579.55 L604.27 585.50 M608.95 582.10 L614.05 582.10 L614.05 581.25 L613.62 580.40 L613.20 579.98 L612.35 579.55 L611.08 579.55 L610.23 579.98 L609.38 580.83 L608.95 582.10 L608.95 582.95 L609.38 584.23 L610.23 585.08 L611.08 585.50 L612.35 585.50 L613.20 585.08 L614.05 584.23 M617.02 576.58 L617.02 585.50 M620.00 582.10 L625.10 582.10 L625.10 581.25 L624.67 580.40 L624.25 579.98 L623.40 579.55 L622.12 579.55 L621.27 579.98 L620.42 580.83 L620.00 582.10 L620.00 582.95 L620.42 584.23 L621.27 585.08 L622.12 585.50 L623.40 585.50 L624.25 585.08 L625.10 584.23 M628.08 579.55 L628.08 585.50 M628.08 581.25 L629.35 579.98 L630.20 579.55 L631.48 579.55 L632.33 579.98 L632.75 581.25 L632.75 585.50 M640.83 579.55 L640.83 586.35 L640.40 587.62 L639.98 588.05 L639.12 588.48 L637.85 588.48 L637.00 588.05 M640.83 580.83 L639.98 579.98 L639.12 579.55 L637.85 579.55 L637.00 579.98 L636.15 580.83 L635.73 582.10 L635.73 582.95 L636.15 584.23 L637.00 585.08 L637.85 585.50 L639.12 585.50 L639.98 585.08 L640.83 584.23 M644.65 576.58 L644.65 583.80 L645.08 585.08 L645.92 585.50 L646.77 585.50 M643.38 579.55 L646.35 579.55 M649.33 576.58 L649.33 585.50 M649.33 581.25 L650.60 579.98 L651.45 579.55 L652.73 579.55 L653.58 579.98 L654.00 581.25 L654.00 585.50 M658.25 585.08 L657.83 585.50 L657.40 585.08 L657.83 584.65 L658.25 585.08 L658.25 585.92 L657.83 586.77 L657.40 587.20 M670.58 576.58 L667.17 585.50 M670.58 576.58 L673.98 585.50 M668.45 582.52 L672.70 582.52 M34.31 299.82 L43.50 299.82 M34.31 299.82 L34.31 294.13 M38.68 299.82 L38.68 296.32 M34.31 291.94 L43.50 291.94 M37.37 288.44 L41.75 288.44 L43.06 288.00 L43.50 287.12 L43.50 285.81 L43.06 284.94 L41.75 283.62 M37.37 283.62 L43.50 283.62 M37.37 280.56 L43.50 275.74 M37.37 275.74 L43.50 280.56" stroke="#fff" stroke-width="1" fill="none" stroke-linejoin="round"/>
<path d="M597.70 7.90 L597.70 7.36 L598.24 6.29 L598.77 5.75 L599.85 5.21 L602.00 5.21 L603.07 5.75 L603.61 6.29 L604.15 7.36 L604.15 8.44 L603.61 9.51 L602.54 11.12 L597.16 16.50 L604.69 16.50 M611.14 5.21 L609.52 5.75 L608.45 7.36 L607.91 10.05 L607.91 11.66 L608.45 14.35 L609.52 15.96 L611.14 16.50 L612.21 16.50 L613.82 15.96 L614.90 14.35 L615.44 11.66 L615.44 10.05 L614.90 7.36 L613.82 5.75 L612.21 5.21 L611.14 5.21 M625.11 5.21 L619.74 5.21 L619.20 10.05 L619.74 9.51 L621.35 8.98 L622.96 8.98 L624.57 9.51 L625.65 10.59 L626.19 12.20 L626.19 13.28 L625.65 14.89 L624.57 15.96 L622.96 16.50 L621.35 16.50 L619.74 15.96 L619.20 15.43 L618.66 14.35 M635.86 5.21 L630.49 5.21 L629.95 10.05 L630.49 9.51 L632.10 8.98 L633.71 8.98 L635.32 9.51 L636.40 10.59 L636.94 12.20 L636.94 13.28 L636.40 14.89 L635.32 15.96 L633.71 16.50 L632.10 16.50 L630.49 15.96 L629.95 15.43 L629.41 14.35 M641.77 7.36 L642.85 6.83 L644.46 5.21 L644.46 16.50 M651.45 7.90 L651.45 7.36 L651.99 6.29 L652.52 5.75 L653.60 5.21 L655.75 5.21 L656.82 5.75 L657.36 6.29 L657.90 7.36 L657.90 8.44 L657.36 9.51 L656.29 11.12 L650.91 16.50 L658.44 16.50" stroke="#fff" stroke-width="1" fill="none" stroke-linejoin="round"/>
</svg>
</body></html>
